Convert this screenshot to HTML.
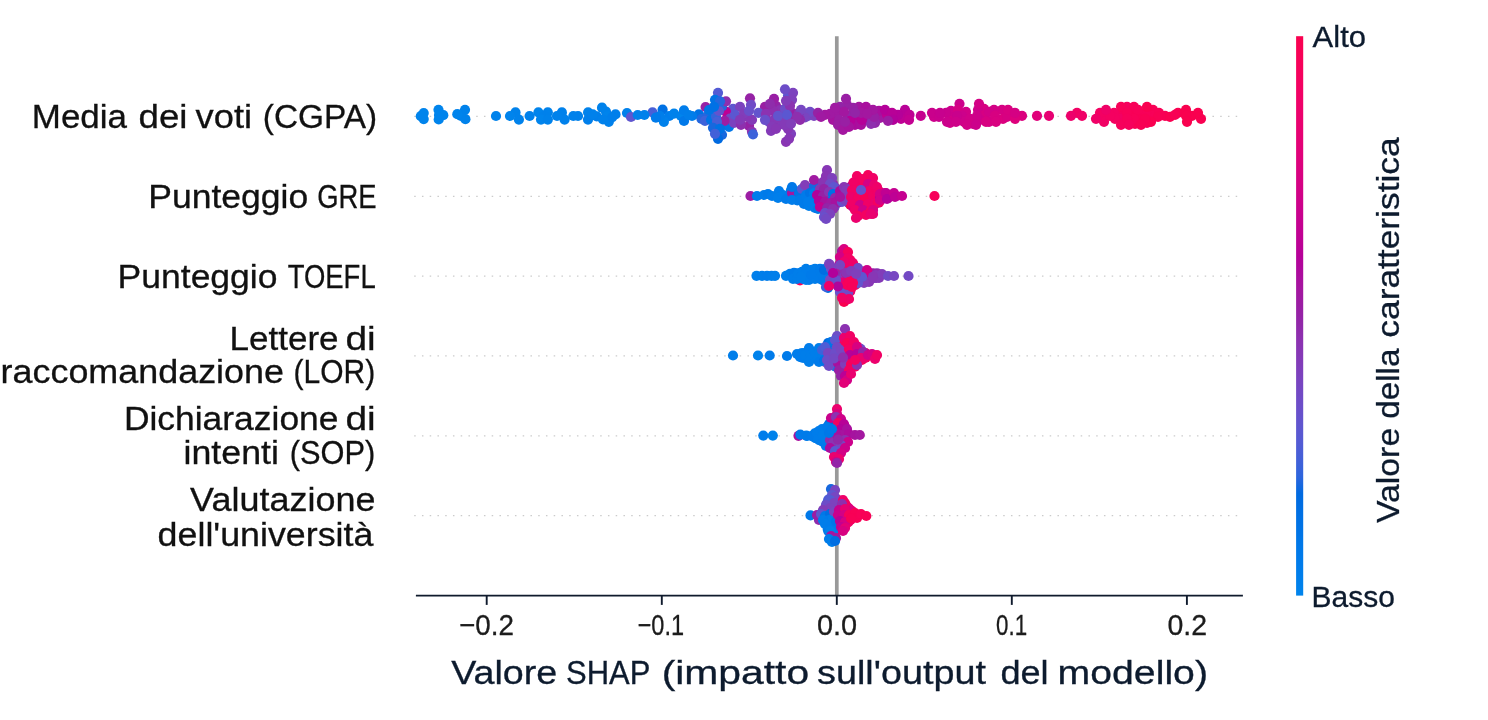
<!DOCTYPE html>
<html lang="it"><head><meta charset="utf-8"><title>Valore SHAP</title>
<style>html,body{margin:0;padding:0;background:#fff}body{width:1488px;height:720px;overflow:hidden}svg{display:block;will-change:transform}text{font-family:'Liberation Sans', sans-serif;white-space:pre}</style></head><body>
<svg width="1488" height="720" viewBox="0 0 1488 720">
<defs><linearGradient id="cb" x1="0" y1="1" x2="0" y2="0"><stop offset="0.000" stop-color="#0084ec"/><stop offset="0.030" stop-color="#007feb"/><stop offset="0.061" stop-color="#007bea"/><stop offset="0.091" stop-color="#0078e8"/><stop offset="0.121" stop-color="#0073e5"/><stop offset="0.152" stop-color="#006fe3"/><stop offset="0.182" stop-color="#006ae0"/><stop offset="0.212" stop-color="#2d65dd"/><stop offset="0.242" stop-color="#4260d8"/><stop offset="0.273" stop-color="#535bd4"/><stop offset="0.303" stop-color="#5f56cf"/><stop offset="0.333" stop-color="#6a4fca"/><stop offset="0.364" stop-color="#7349c4"/><stop offset="0.394" stop-color="#7c42be"/><stop offset="0.424" stop-color="#843ab7"/><stop offset="0.455" stop-color="#8c32b1"/><stop offset="0.485" stop-color="#9128a9"/><stop offset="0.515" stop-color="#991fa4"/><stop offset="0.545" stop-color="#a317a0"/><stop offset="0.576" stop-color="#ac0b9d"/><stop offset="0.606" stop-color="#b50199"/><stop offset="0.636" stop-color="#be0194"/><stop offset="0.667" stop-color="#c50190"/><stop offset="0.697" stop-color="#cc018b"/><stop offset="0.727" stop-color="#d30185"/><stop offset="0.758" stop-color="#d90180"/><stop offset="0.788" stop-color="#e0017a"/><stop offset="0.818" stop-color="#e50174"/><stop offset="0.848" stop-color="#ea016f"/><stop offset="0.879" stop-color="#ef0169"/><stop offset="0.909" stop-color="#f30162"/><stop offset="0.939" stop-color="#f6015c"/><stop offset="0.970" stop-color="#f80156"/><stop offset="1.000" stop-color="#f9014f"/><stop offset="1" stop-color="#f9014f"/></linearGradient></defs>
<rect width="1488" height="720" fill="#ffffff"/>
<line x1="836.8" y1="36.2" x2="836.8" y2="595.6" stroke="#999999" stroke-width="3.7"/>
<g stroke="#cbcbcb" stroke-width="1.3" stroke-dasharray="1.5 6.25">
<line x1="414.2" y1="116.3" x2="1239.9" y2="116.3"/>
<line x1="414.2" y1="196.3" x2="1239.9" y2="196.3"/>
<line x1="414.2" y1="276.1" x2="1239.9" y2="276.1"/>
<line x1="414.2" y1="355.8" x2="1239.9" y2="355.8"/>
<line x1="414.2" y1="435.9" x2="1239.9" y2="435.9"/>
<line x1="414.2" y1="515.7" x2="1239.9" y2="515.7"/>
</g>
<g id="row1">
<circle cx="1077.0" cy="112.8" r="5.1" fill="#f10164"/><circle cx="1134.0" cy="112.8" r="5.1" fill="#f80156"/><circle cx="780.0" cy="122.0" r="5.1" fill="#843ab7"/><circle cx="880.0" cy="117.8" r="5.1" fill="#a01aa2"/><circle cx="749.0" cy="125.8" r="5.1" fill="#9622a5"/><circle cx="776.0" cy="105.8" r="5.1" fill="#9324a7"/><circle cx="681.0" cy="116.0" r="5.1" fill="#0084ec"/><circle cx="780.0" cy="110.0" r="5.1" fill="#8c32b1"/><circle cx="596.7" cy="116.4" r="5.1" fill="#007feb"/><circle cx="538.4" cy="112.4" r="5.1" fill="#0084ec"/><circle cx="973.0" cy="123.8" r="5.1" fill="#cc018b"/><circle cx="794.0" cy="116.8" r="5.1" fill="#9128a9"/><circle cx="984.0" cy="108.8" r="5.1" fill="#d70181"/><circle cx="1153.0" cy="109.8" r="5.1" fill="#f80156"/><circle cx="833.0" cy="119.8" r="5.1" fill="#a6139f"/><circle cx="1135.0" cy="123.8" r="5.1" fill="#f80154"/><circle cx="438.5" cy="109.8" r="5.1" fill="#0084ec"/><circle cx="788.0" cy="95.8" r="5.1" fill="#5b57d1"/><circle cx="712.0" cy="112.8" r="5.1" fill="#2d65dd"/><circle cx="588.1" cy="112.4" r="5.1" fill="#0082eb"/><circle cx="547.8" cy="112.4" r="5.1" fill="#0082eb"/><circle cx="868.0" cy="119.8" r="5.1" fill="#9324a7"/><circle cx="793.0" cy="92.8" r="5.1" fill="#7c42be"/><circle cx="856.0" cy="119.8" r="5.1" fill="#b50199"/><circle cx="952.0" cy="118.8" r="5.1" fill="#d10187"/><circle cx="765.0" cy="106.8" r="5.1" fill="#991fa4"/><circle cx="1104.0" cy="121.8" r="5.1" fill="#f10164"/><circle cx="848.0" cy="115.8" r="5.1" fill="#9128a9"/><circle cx="1127.0" cy="106.8" r="5.1" fill="#f5015e"/><circle cx="950.0" cy="122.8" r="5.1" fill="#d10187"/><circle cx="698.9" cy="114.4" r="5.1" fill="#0071e4"/><circle cx="792.0" cy="99.8" r="5.1" fill="#7f40bc"/><circle cx="723.0" cy="124.0" r="5.1" fill="#3664db"/><circle cx="1120.0" cy="112.8" r="5.1" fill="#f6015c"/><circle cx="1103.0" cy="115.4" r="5.1" fill="#f30162"/><circle cx="1049.0" cy="115.8" r="5.1" fill="#e70172"/><circle cx="1121.0" cy="106.8" r="5.1" fill="#f80158"/><circle cx="465.0" cy="109.8" r="5.1" fill="#0082eb"/><circle cx="934.0" cy="116.8" r="5.1" fill="#cc018b"/><circle cx="733.0" cy="108.8" r="5.1" fill="#5f56cf"/><circle cx="420.8" cy="116.2" r="5.1" fill="#0084ec"/><circle cx="722.0" cy="134.8" r="5.1" fill="#1768de"/><circle cx="1100.0" cy="112.8" r="5.1" fill="#f30162"/><circle cx="1082.0" cy="115.8" r="5.1" fill="#f00167"/><circle cx="544.0" cy="116.0" r="5.1" fill="#0081eb"/><circle cx="785.0" cy="108.8" r="5.1" fill="#6d4dc8"/><circle cx="808.0" cy="115.8" r="5.1" fill="#5f56cf"/><circle cx="814.0" cy="116.0" r="5.1" fill="#7c42be"/><circle cx="906.0" cy="116.8" r="5.1" fill="#c30191"/><circle cx="726.0" cy="111.8" r="5.1" fill="#be0194"/><circle cx="901.0" cy="118.8" r="5.1" fill="#be0194"/><circle cx="837.0" cy="112.8" r="5.1" fill="#a01aa2"/><circle cx="951.0" cy="110.8" r="5.1" fill="#cc018b"/><circle cx="684.0" cy="110.4" r="5.1" fill="#007deb"/><circle cx="1165.0" cy="115.8" r="5.1" fill="#f80154"/><circle cx="608.8" cy="121.8" r="5.1" fill="#0081eb"/><circle cx="701.5" cy="119.0" r="5.1" fill="#2467de"/><circle cx="879.0" cy="110.8" r="5.1" fill="#a90f9e"/><circle cx="752.0" cy="131.8" r="5.1" fill="#8c32b1"/><circle cx="684.0" cy="121.0" r="5.1" fill="#0079e9"/><circle cx="810.0" cy="111.8" r="5.1" fill="#704bc6"/><circle cx="1139.0" cy="115.8" r="5.1" fill="#f80156"/><circle cx="1114.0" cy="112.8" r="5.1" fill="#f40160"/><circle cx="791.0" cy="133.8" r="5.1" fill="#7f40bc"/><circle cx="722.0" cy="106.5" r="5.1" fill="#2467de"/><circle cx="423.7" cy="119.1" r="5.1" fill="#0084ec"/><circle cx="1002.0" cy="109.8" r="5.1" fill="#d50183"/><circle cx="959.5" cy="103.8" r="5.1" fill="#cc018b"/><circle cx="847.0" cy="104.8" r="5.1" fill="#9622a5"/><circle cx="423.7" cy="113.1" r="5.1" fill="#0084ec"/><circle cx="707.0" cy="116.4" r="5.1" fill="#2467de"/><circle cx="718.0" cy="138.8" r="5.1" fill="#006ae0"/><circle cx="515.5" cy="112.4" r="5.1" fill="#0082eb"/><circle cx="1201.0" cy="118.8" r="5.1" fill="#f90151"/><circle cx="855.0" cy="124.8" r="5.1" fill="#ac0b9d"/><circle cx="1120.0" cy="118.8" r="5.1" fill="#f30162"/><circle cx="1096.0" cy="118.8" r="5.1" fill="#f00167"/><circle cx="769.0" cy="121.8" r="5.1" fill="#704bc6"/><circle cx="692.0" cy="116.0" r="5.1" fill="#007bea"/><circle cx="1178.0" cy="112.8" r="5.1" fill="#f90151"/><circle cx="1147.0" cy="122.8" r="5.1" fill="#f7015a"/><circle cx="774.0" cy="98.8" r="5.1" fill="#991fa4"/><circle cx="958.0" cy="109.8" r="5.1" fill="#d50183"/><circle cx="774.0" cy="119.8" r="5.1" fill="#8737b5"/><circle cx="730.0" cy="118.5" r="5.1" fill="#7349c4"/><circle cx="788.0" cy="128.8" r="5.1" fill="#8737b5"/><circle cx="705.6" cy="107.0" r="5.1" fill="#9622a5"/><circle cx="840.0" cy="106.8" r="5.1" fill="#9324a7"/><circle cx="844.0" cy="111.8" r="5.1" fill="#a317a0"/><circle cx="1192.0" cy="115.8" r="5.1" fill="#f9014f"/><circle cx="966.0" cy="111.8" r="5.1" fill="#d10187"/><circle cx="740.0" cy="106.8" r="5.1" fill="#7c42be"/><circle cx="905.0" cy="109.8" r="5.1" fill="#b80197"/><circle cx="465.4" cy="119.2" r="5.1" fill="#0082eb"/><circle cx="541.0" cy="119.6" r="5.1" fill="#0084ec"/><circle cx="615.5" cy="114.4" r="5.1" fill="#007feb"/><circle cx="718.0" cy="92.8" r="5.1" fill="#535bd4"/><circle cx="830.0" cy="113.8" r="5.1" fill="#a01aa2"/><circle cx="978.0" cy="109.8" r="5.1" fill="#ce0189"/><circle cx="729.0" cy="126.8" r="5.1" fill="#0076e7"/><circle cx="985.0" cy="114.8" r="5.1" fill="#d50183"/><circle cx="1115.0" cy="118.8" r="5.1" fill="#f40160"/><circle cx="771.0" cy="130.8" r="5.1" fill="#843ab7"/><circle cx="786.0" cy="141.8" r="5.1" fill="#8935b3"/><circle cx="1152.0" cy="115.8" r="5.1" fill="#f80158"/><circle cx="705.0" cy="120.8" r="5.1" fill="#3d62da"/><circle cx="783.0" cy="117.0" r="5.1" fill="#7c42be"/><circle cx="752.0" cy="119.8" r="5.1" fill="#843ab7"/><circle cx="1146.0" cy="112.8" r="5.1" fill="#f80158"/><circle cx="994.0" cy="109.8" r="5.1" fill="#d30185"/><circle cx="1159.0" cy="112.8" r="5.1" fill="#f80156"/><circle cx="932.0" cy="112.8" r="5.1" fill="#c9018c"/><circle cx="510.0" cy="116.0" r="5.1" fill="#0084ec"/><circle cx="1003.0" cy="118.8" r="5.1" fill="#db017e"/><circle cx="747.0" cy="116.8" r="5.1" fill="#8737b5"/><circle cx="652.5" cy="112.4" r="5.1" fill="#485fd7"/><circle cx="1158.0" cy="116.8" r="5.1" fill="#f80154"/><circle cx="662.6" cy="109.7" r="5.1" fill="#0071e4"/><circle cx="443.3" cy="115.2" r="5.1" fill="#0084ec"/><circle cx="859.0" cy="106.8" r="5.1" fill="#a317a0"/><circle cx="789.0" cy="138.8" r="5.1" fill="#8737b5"/><circle cx="786.0" cy="121.8" r="5.1" fill="#823db9"/><circle cx="715.0" cy="99.8" r="5.1" fill="#0073e5"/><circle cx="772.0" cy="126.8" r="5.1" fill="#843ab7"/><circle cx="792.0" cy="112.8" r="5.1" fill="#991fa4"/><circle cx="547.8" cy="119.6" r="5.1" fill="#0082eb"/><circle cx="734.0" cy="122.8" r="5.1" fill="#7c42be"/><circle cx="750.0" cy="98.3" r="5.1" fill="#9622a5"/><circle cx="751.0" cy="104.8" r="5.1" fill="#704bc6"/><circle cx="1121.0" cy="124.8" r="5.1" fill="#f6015c"/><circle cx="606.0" cy="111.7" r="5.1" fill="#0082eb"/><circle cx="1134.0" cy="106.8" r="5.1" fill="#f80158"/><circle cx="627.0" cy="113.0" r="5.1" fill="#0081eb"/><circle cx="518.9" cy="119.6" r="5.1" fill="#0082eb"/><circle cx="920.8" cy="115.8" r="5.1" fill="#c50190"/><circle cx="711.0" cy="119.8" r="5.1" fill="#0073e5"/><circle cx="979.0" cy="103.8" r="5.1" fill="#d30185"/><circle cx="898.0" cy="114.8" r="5.1" fill="#b50199"/><circle cx="825.0" cy="114.8" r="5.1" fill="#a317a0"/><circle cx="578.0" cy="116.0" r="5.1" fill="#0081eb"/><circle cx="1151.0" cy="121.8" r="5.1" fill="#f90151"/><circle cx="962.0" cy="115.8" r="5.1" fill="#cc018b"/><circle cx="1138.0" cy="109.8" r="5.1" fill="#f80158"/><circle cx="861.0" cy="124.8" r="5.1" fill="#a90f9e"/><circle cx="853.0" cy="107.8" r="5.1" fill="#9622a5"/><circle cx="631.0" cy="117.0" r="5.1" fill="#5f56cf"/><circle cx="850.0" cy="120.8" r="5.1" fill="#b50199"/><circle cx="724.5" cy="120.8" r="5.1" fill="#9c1da3"/><circle cx="839.0" cy="119.8" r="5.1" fill="#9c1da3"/><circle cx="602.0" cy="107.7" r="5.1" fill="#0082eb"/><circle cx="838.0" cy="124.8" r="5.1" fill="#9c1da3"/><circle cx="1037.0" cy="115.8" r="5.1" fill="#e0017a"/><circle cx="818.0" cy="112.8" r="5.1" fill="#9622a5"/><circle cx="573.3" cy="116.0" r="5.1" fill="#0081eb"/><circle cx="790.0" cy="105.8" r="5.1" fill="#8c32b1"/><circle cx="741.0" cy="124.8" r="5.1" fill="#8e2fae"/><circle cx="805.0" cy="117.5" r="5.1" fill="#7945c0"/><circle cx="964.0" cy="121.8" r="5.1" fill="#ce0189"/><circle cx="989.0" cy="111.8" r="5.1" fill="#d10187"/><circle cx="875.0" cy="122.8" r="5.1" fill="#9128a9"/><circle cx="989.0" cy="121.8" r="5.1" fill="#d30185"/><circle cx="866.0" cy="106.8" r="5.1" fill="#a90f9e"/><circle cx="1134.0" cy="118.8" r="5.1" fill="#f80158"/><circle cx="1145.0" cy="118.8" r="5.1" fill="#f80154"/><circle cx="887.0" cy="114.8" r="5.1" fill="#be0194"/><circle cx="1198.0" cy="112.8" r="5.1" fill="#f9014f"/><circle cx="946.0" cy="112.8" r="5.1" fill="#c9018c"/><circle cx="947.0" cy="121.8" r="5.1" fill="#cc018b"/><circle cx="669.3" cy="116.0" r="5.1" fill="#007deb"/><circle cx="773.0" cy="110.8" r="5.1" fill="#8e2fae"/><circle cx="885.0" cy="109.8" r="5.1" fill="#b50199"/><circle cx="970.0" cy="118.8" r="5.1" fill="#d10187"/><circle cx="786.0" cy="100.8" r="5.1" fill="#823db9"/><circle cx="980.0" cy="119.8" r="5.1" fill="#ce0189"/><circle cx="995.0" cy="115.8" r="5.1" fill="#d70181"/><circle cx="957.0" cy="115.8" r="5.1" fill="#c9018c"/><circle cx="939.0" cy="116.8" r="5.1" fill="#c9018c"/><circle cx="1022.0" cy="115.8" r="5.1" fill="#db017e"/><circle cx="821.0" cy="116.8" r="5.1" fill="#a01aa2"/><circle cx="637.7" cy="115.0" r="5.1" fill="#0081eb"/><circle cx="956.0" cy="121.8" r="5.1" fill="#ce0189"/><circle cx="778.0" cy="115.8" r="5.1" fill="#6354cd"/><circle cx="644.4" cy="115.0" r="5.1" fill="#0081eb"/><circle cx="892.0" cy="112.8" r="5.1" fill="#b80197"/><circle cx="784.0" cy="125.0" r="5.1" fill="#843ab7"/><circle cx="588.0" cy="119.6" r="5.1" fill="#007feb"/><circle cx="893.0" cy="119.8" r="5.1" fill="#b2019a"/><circle cx="1007.0" cy="116.8" r="5.1" fill="#d70181"/><circle cx="716.0" cy="116.5" r="5.1" fill="#3664db"/><circle cx="607.5" cy="116.4" r="5.1" fill="#0084ec"/><circle cx="1186.0" cy="109.8" r="5.1" fill="#f9014f"/><circle cx="529.6" cy="116.0" r="5.1" fill="#0081eb"/><circle cx="1147.0" cy="106.8" r="5.1" fill="#f90151"/><circle cx="439.0" cy="115.0" r="5.1" fill="#0084ec"/><circle cx="612.0" cy="117.5" r="5.1" fill="#007feb"/><circle cx="735.0" cy="114.8" r="5.1" fill="#5b57d1"/><circle cx="871.0" cy="123.8" r="5.1" fill="#8e2fae"/><circle cx="438.7" cy="119.5" r="5.1" fill="#0084ec"/><circle cx="1127.0" cy="112.8" r="5.1" fill="#f80158"/><circle cx="758.5" cy="112.8" r="5.1" fill="#6354cd"/><circle cx="461.0" cy="116.0" r="5.1" fill="#0082eb"/><circle cx="1071.0" cy="115.8" r="5.1" fill="#ed016b"/><circle cx="787.0" cy="114.8" r="5.1" fill="#5b57d1"/><circle cx="846.0" cy="98.8" r="5.1" fill="#991fa4"/><circle cx="776.0" cy="128.8" r="5.1" fill="#8737b5"/><circle cx="940.0" cy="112.8" r="5.1" fill="#c7018e"/><circle cx="996.0" cy="121.8" r="5.1" fill="#d90180"/><circle cx="603.0" cy="119.5" r="5.1" fill="#0081eb"/><circle cx="799.0" cy="112.8" r="5.1" fill="#8935b3"/><circle cx="986.0" cy="121.8" r="5.1" fill="#d70181"/><circle cx="1170.0" cy="116.8" r="5.1" fill="#f90151"/><circle cx="753.0" cy="134.3" r="5.1" fill="#3d62da"/><circle cx="726.0" cy="101.3" r="5.1" fill="#8e2fae"/><circle cx="457.3" cy="114.2" r="5.1" fill="#0084ec"/><circle cx="663.9" cy="121.8" r="5.1" fill="#0081eb"/><circle cx="835.0" cy="107.8" r="5.1" fill="#a01aa2"/><circle cx="592.7" cy="114.4" r="5.1" fill="#0081eb"/><circle cx="1110.0" cy="115.8" r="5.1" fill="#f40160"/><circle cx="660.0" cy="116.0" r="5.1" fill="#007eea"/><circle cx="709.0" cy="110.0" r="5.1" fill="#0073e5"/><circle cx="801.0" cy="109.8" r="5.1" fill="#7747c2"/><circle cx="800.0" cy="119.8" r="5.1" fill="#8f2cab"/><circle cx="874.0" cy="116.8" r="5.1" fill="#991fa4"/><circle cx="862.0" cy="119.8" r="5.1" fill="#b50199"/><circle cx="1015.0" cy="118.8" r="5.1" fill="#dd017c"/><circle cx="655.9" cy="117.7" r="5.1" fill="#007bea"/><circle cx="861.0" cy="112.8" r="5.1" fill="#a317a0"/><circle cx="719.0" cy="111.0" r="5.1" fill="#6354cd"/><circle cx="717.0" cy="121.8" r="5.1" fill="#485fd7"/><circle cx="744.0" cy="113.5" r="5.1" fill="#823db9"/><circle cx="785.0" cy="89.3" r="5.1" fill="#6d4dc8"/><circle cx="873.0" cy="109.8" r="5.1" fill="#a317a0"/><circle cx="674.0" cy="113.7" r="5.1" fill="#0082eb"/><circle cx="843.0" cy="129.8" r="5.1" fill="#a317a0"/><circle cx="749.0" cy="110.8" r="5.1" fill="#6a4fca"/><circle cx="766.0" cy="113.8" r="5.1" fill="#8c32b1"/><circle cx="1127.0" cy="118.8" r="5.1" fill="#f7015a"/><circle cx="561.9" cy="112.4" r="5.1" fill="#0081eb"/><circle cx="496.0" cy="116.0" r="5.1" fill="#0082eb"/><circle cx="967.0" cy="124.8" r="5.1" fill="#d10187"/><circle cx="720.0" cy="101.3" r="5.1" fill="#2467de"/><circle cx="564.6" cy="119.6" r="5.1" fill="#0081eb"/><circle cx="1175.0" cy="114.8" r="5.1" fill="#f80154"/><circle cx="713.0" cy="127.8" r="5.1" fill="#1768de"/><circle cx="720.0" cy="128.8" r="5.1" fill="#0071e4"/><circle cx="715.0" cy="133.8" r="5.1" fill="#4260d8"/><circle cx="740.0" cy="119.8" r="5.1" fill="#843ab7"/><circle cx="1186.0" cy="115.8" r="5.1" fill="#f9014f"/><circle cx="909.5" cy="114.8" r="5.1" fill="#be0194"/><circle cx="867.0" cy="113.8" r="5.1" fill="#a317a0"/><circle cx="849.0" cy="126.8" r="5.1" fill="#a6139f"/><circle cx="1187.0" cy="121.8" r="5.1" fill="#f9014f"/><circle cx="1008.0" cy="109.8" r="5.1" fill="#d90180"/><circle cx="977.0" cy="115.8" r="5.1" fill="#ce0189"/><circle cx="1129.0" cy="124.8" r="5.1" fill="#f6015c"/><circle cx="770.0" cy="103.8" r="5.1" fill="#8f2cab"/><circle cx="688.8" cy="115.0" r="5.1" fill="#007eea"/><circle cx="845.0" cy="121.8" r="5.1" fill="#991fa4"/><circle cx="909.0" cy="119.8" r="5.1" fill="#c30191"/><circle cx="976.0" cy="124.8" r="5.1" fill="#cc018b"/><circle cx="714.0" cy="106.8" r="5.1" fill="#0071e5"/><circle cx="797.0" cy="116.8" r="5.1" fill="#8e2fae"/><circle cx="855.0" cy="112.8" r="5.1" fill="#9324a7"/><circle cx="557.0" cy="116.0" r="5.1" fill="#0082eb"/><circle cx="1106.0" cy="109.8" r="5.1" fill="#f00167"/><circle cx="888.0" cy="120.8" r="5.1" fill="#9c1da3"/><circle cx="1141.0" cy="124.8" r="5.1" fill="#f80154"/><circle cx="791.0" cy="123.8" r="5.1" fill="#823db9"/><circle cx="765.0" cy="119.8" r="5.1" fill="#6a4fca"/><circle cx="1015.0" cy="112.8" r="5.1" fill="#d50183"/>
</g>
<g id="row2">
<circle cx="824.2" cy="191.5" r="5.1" fill="#0075e6"/><circle cx="827.9" cy="205.0" r="5.1" fill="#a317a0"/><circle cx="841.2" cy="196.0" r="5.1" fill="#704bc6"/><circle cx="876.0" cy="193.8" r="5.1" fill="#f00167"/><circle cx="823.3" cy="200.5" r="5.1" fill="#7747c2"/><circle cx="861.4" cy="187.0" r="5.1" fill="#4260d8"/><circle cx="794.8" cy="193.8" r="5.1" fill="#a317a0"/><circle cx="812.5" cy="187.0" r="5.1" fill="#af059c"/><circle cx="804.5" cy="198.2" r="5.1" fill="#6354cd"/><circle cx="863.5" cy="189.3" r="5.1" fill="#c50190"/><circle cx="831.0" cy="184.8" r="5.1" fill="#6354cd"/><circle cx="860.8" cy="198.2" r="5.1" fill="#f5015e"/><circle cx="849.1" cy="191.5" r="5.1" fill="#4e5dd6"/><circle cx="794.1" cy="198.2" r="5.1" fill="#007be9"/><circle cx="829.1" cy="180.3" r="5.1" fill="#5b57d1"/><circle cx="858.4" cy="191.5" r="5.1" fill="#e90170"/><circle cx="829.3" cy="184.8" r="5.1" fill="#b50199"/><circle cx="853.4" cy="193.8" r="5.1" fill="#f9014f"/><circle cx="857.6" cy="202.7" r="5.1" fill="#f90151"/><circle cx="834.4" cy="198.2" r="5.1" fill="#0082eb"/><circle cx="853.1" cy="196.0" r="5.1" fill="#f5015e"/><circle cx="857.3" cy="189.3" r="5.1" fill="#f5015e"/><circle cx="803.5" cy="200.5" r="5.1" fill="#0081eb"/><circle cx="819.7" cy="202.7" r="5.1" fill="#0079e9"/><circle cx="868.6" cy="202.7" r="5.1" fill="#f10164"/><circle cx="791.6" cy="198.2" r="5.1" fill="#007feb"/><circle cx="792.8" cy="191.5" r="5.1" fill="#a317a0"/><circle cx="862.2" cy="209.5" r="5.1" fill="#f5015e"/><circle cx="848.9" cy="196.0" r="5.1" fill="#991fa4"/><circle cx="828.6" cy="209.5" r="5.1" fill="#4e5dd6"/><circle cx="869.4" cy="207.2" r="5.1" fill="#f5015e"/><circle cx="874.7" cy="187.0" r="5.1" fill="#f10164"/><circle cx="837.7" cy="193.8" r="5.1" fill="#af059c"/><circle cx="868.7" cy="193.8" r="5.1" fill="#f5015e"/><circle cx="820.5" cy="205.0" r="5.1" fill="#2d65dd"/><circle cx="868.4" cy="182.5" r="5.1" fill="#f6015c"/><circle cx="836.5" cy="189.3" r="5.1" fill="#8c32b1"/><circle cx="835.1" cy="202.7" r="5.1" fill="#9622a5"/><circle cx="860.0" cy="200.5" r="5.1" fill="#ef0169"/><circle cx="822.8" cy="202.7" r="5.1" fill="#af059c"/><circle cx="814.1" cy="191.5" r="5.1" fill="#0071e5"/><circle cx="858.7" cy="207.2" r="5.1" fill="#f6015c"/><circle cx="875.2" cy="191.5" r="5.1" fill="#f40160"/><circle cx="859.9" cy="193.8" r="5.1" fill="#ef0169"/><circle cx="873.3" cy="205.0" r="5.1" fill="#d50183"/><circle cx="873.1" cy="191.5" r="5.1" fill="#6751cc"/><circle cx="807.0" cy="191.5" r="5.1" fill="#8e2fae"/><circle cx="830.0" cy="200.5" r="5.1" fill="#8f2cab"/><circle cx="824.3" cy="200.5" r="5.1" fill="#7f40bc"/><circle cx="808.8" cy="196.0" r="5.1" fill="#6d4dc8"/><circle cx="808.4" cy="198.2" r="5.1" fill="#bb0196"/><circle cx="831.3" cy="200.5" r="5.1" fill="#db017e"/><circle cx="859.4" cy="205.0" r="5.1" fill="#d50183"/><circle cx="877.9" cy="198.2" r="5.1" fill="#cc018b"/><circle cx="863.7" cy="200.5" r="5.1" fill="#f40160"/><circle cx="872.5" cy="198.2" r="5.1" fill="#6354cd"/><circle cx="871.8" cy="189.3" r="5.1" fill="#f80154"/><circle cx="840.9" cy="200.5" r="5.1" fill="#843ab7"/><circle cx="857.5" cy="193.8" r="5.1" fill="#f80158"/><circle cx="839.7" cy="191.5" r="5.1" fill="#6d4dc8"/><circle cx="866.9" cy="189.3" r="5.1" fill="#d70181"/><circle cx="864.6" cy="184.8" r="5.1" fill="#7f40bc"/><circle cx="834.4" cy="200.5" r="5.1" fill="#6d4dc8"/><circle cx="870.4" cy="191.5" r="5.1" fill="#f6015c"/><circle cx="848.7" cy="193.8" r="5.1" fill="#6751cc"/><circle cx="804.7" cy="189.3" r="5.1" fill="#007deb"/><circle cx="842.6" cy="193.8" r="5.1" fill="#991fa4"/><circle cx="865.2" cy="198.2" r="5.1" fill="#c7018e"/><circle cx="820.2" cy="193.8" r="5.1" fill="#d70181"/><circle cx="835.9" cy="200.5" r="5.1" fill="#b2019a"/><circle cx="826.7" cy="191.5" r="5.1" fill="#d70181"/><circle cx="874.3" cy="205.0" r="5.1" fill="#991fa4"/><circle cx="841.2" cy="198.2" r="5.1" fill="#6751cc"/><circle cx="822.0" cy="196.0" r="5.1" fill="#704bc6"/><circle cx="855.6" cy="184.8" r="5.1" fill="#f90151"/><circle cx="800.8" cy="193.8" r="5.1" fill="#4e5dd6"/><circle cx="849.3" cy="200.5" r="5.1" fill="#5f56cf"/><circle cx="863.2" cy="198.2" r="5.1" fill="#ef0169"/><circle cx="826.1" cy="202.7" r="5.1" fill="#b80197"/><circle cx="864.4" cy="189.3" r="5.1" fill="#7c42be"/><circle cx="827.0" cy="207.2" r="5.1" fill="#5b57d1"/><circle cx="833.8" cy="187.0" r="5.1" fill="#0076e7"/><circle cx="828.6" cy="211.7" r="5.1" fill="#0078e8"/><circle cx="804.7" cy="193.8" r="5.1" fill="#c30191"/><circle cx="865.6" cy="196.0" r="5.1" fill="#f9014f"/><circle cx="875.0" cy="202.7" r="5.1" fill="#6354cd"/><circle cx="873.5" cy="193.8" r="5.1" fill="#f7015a"/><circle cx="801.7" cy="189.3" r="5.1" fill="#007be9"/><circle cx="866.3" cy="196.0" r="5.1" fill="#c7018e"/><circle cx="824.9" cy="205.0" r="5.1" fill="#8737b5"/><circle cx="850.1" cy="196.0" r="5.1" fill="#ef0169"/><circle cx="816.1" cy="191.5" r="5.1" fill="#0075e6"/><circle cx="854.2" cy="205.0" r="5.1" fill="#ed016b"/><circle cx="856.9" cy="200.5" r="5.1" fill="#f00167"/><circle cx="827.4" cy="182.5" r="5.1" fill="#a6139f"/><circle cx="856.8" cy="198.2" r="5.1" fill="#f80156"/><circle cx="867.6" cy="205.0" r="5.1" fill="#ed016b"/><circle cx="837.4" cy="189.3" r="5.1" fill="#8935b3"/><circle cx="837.1" cy="200.5" r="5.1" fill="#c30191"/><circle cx="846.3" cy="193.8" r="5.1" fill="#7349c4"/><circle cx="868.5" cy="191.5" r="5.1" fill="#f40160"/><circle cx="813.8" cy="200.5" r="5.1" fill="#0078e8"/><circle cx="873.7" cy="198.2" r="5.1" fill="#f80154"/><circle cx="826.8" cy="196.0" r="5.1" fill="#007eea"/><circle cx="826.9" cy="200.5" r="5.1" fill="#0079e9"/><circle cx="855.0" cy="207.2" r="5.1" fill="#f10164"/><circle cx="868.7" cy="200.5" r="5.1" fill="#f10164"/><circle cx="866.2" cy="207.2" r="5.1" fill="#f10164"/><circle cx="819.9" cy="191.5" r="5.1" fill="#6d4dc8"/><circle cx="822.1" cy="189.3" r="5.1" fill="#5b57d1"/><circle cx="829.5" cy="205.0" r="5.1" fill="#a317a0"/><circle cx="838.7" cy="198.2" r="5.1" fill="#843ab7"/><circle cx="832.8" cy="196.0" r="5.1" fill="#0071e4"/><circle cx="881.3" cy="196.0" r="5.1" fill="#ec016d"/><circle cx="876.2" cy="200.5" r="5.1" fill="#f30162"/><circle cx="870.3" cy="205.0" r="5.1" fill="#6d4dc8"/><circle cx="869.8" cy="184.8" r="5.1" fill="#f00167"/><circle cx="852.2" cy="191.5" r="5.1" fill="#bb0196"/><circle cx="860.3" cy="196.0" r="5.1" fill="#f5015e"/><circle cx="806.7" cy="189.3" r="5.1" fill="#8935b3"/><circle cx="862.2" cy="205.0" r="5.1" fill="#f6015c"/><circle cx="841.3" cy="191.5" r="5.1" fill="#823db9"/><circle cx="848.4" cy="202.7" r="5.1" fill="#4e5dd6"/><circle cx="860.9" cy="189.3" r="5.1" fill="#ed016b"/><circle cx="792.4" cy="196.0" r="5.1" fill="#0081eb"/><circle cx="865.6" cy="205.0" r="5.1" fill="#ce0189"/><circle cx="868.9" cy="196.0" r="5.1" fill="#f5015e"/><circle cx="844.4" cy="196.0" r="5.1" fill="#843ab7"/><circle cx="832.7" cy="207.2" r="5.1" fill="#a01aa2"/><circle cx="811.2" cy="200.5" r="5.1" fill="#007be9"/><circle cx="834.4" cy="207.2" r="5.1" fill="#704bc6"/><circle cx="816.3" cy="193.8" r="5.1" fill="#6751cc"/><circle cx="835.6" cy="198.2" r="5.1" fill="#6354cd"/><circle cx="850.4" cy="205.0" r="5.1" fill="#f9014f"/><circle cx="841.8" cy="193.8" r="5.1" fill="#7c42be"/><circle cx="831.5" cy="193.8" r="5.1" fill="#9128a9"/><circle cx="851.3" cy="202.7" r="5.1" fill="#f00167"/><circle cx="878.9" cy="200.5" r="5.1" fill="#c30191"/><circle cx="810.1" cy="193.8" r="5.1" fill="#823db9"/><circle cx="853.4" cy="182.5" r="5.1" fill="#ef0169"/><circle cx="866.2" cy="191.5" r="5.1" fill="#c50190"/><circle cx="790.3" cy="198.2" r="5.1" fill="#0078e8"/><circle cx="806.9" cy="202.7" r="5.1" fill="#0071e4"/><circle cx="861.7" cy="202.7" r="5.1" fill="#f6015c"/><circle cx="807.2" cy="198.2" r="5.1" fill="#9128a9"/><circle cx="805.6" cy="187.0" r="5.1" fill="#823db9"/><circle cx="849.8" cy="189.3" r="5.1" fill="#843ab7"/><circle cx="820.2" cy="196.0" r="5.1" fill="#7349c4"/><circle cx="825.8" cy="189.3" r="5.1" fill="#0071e5"/><circle cx="858.9" cy="191.5" r="5.1" fill="#bb0196"/><circle cx="854.8" cy="184.8" r="5.1" fill="#f40160"/><circle cx="830.0" cy="196.0" r="5.1" fill="#535bd4"/><circle cx="825.3" cy="184.8" r="5.1" fill="#9622a5"/><circle cx="804.3" cy="196.0" r="5.1" fill="#6354cd"/><circle cx="802.6" cy="198.2" r="5.1" fill="#c50190"/><circle cx="821.1" cy="202.7" r="5.1" fill="#006ce1"/><circle cx="880.4" cy="200.5" r="5.1" fill="#bb0196"/><circle cx="824.6" cy="187.0" r="5.1" fill="#b80197"/><circle cx="825.2" cy="193.8" r="5.1" fill="#3664db"/><circle cx="807.2" cy="200.5" r="5.1" fill="#0076e7"/><circle cx="810.8" cy="196.0" r="5.1" fill="#7945c0"/><circle cx="881.3" cy="193.8" r="5.1" fill="#d90180"/><circle cx="796.9" cy="191.5" r="5.1" fill="#007deb"/><circle cx="794.7" cy="198.2" r="5.1" fill="#0084ec"/><circle cx="860.9" cy="193.8" r="5.1" fill="#f5015e"/><circle cx="829.6" cy="187.0" r="5.1" fill="#843ab7"/><circle cx="853.2" cy="200.5" r="5.1" fill="#f6015c"/><circle cx="819.5" cy="196.0" r="5.1" fill="#7349c4"/><circle cx="819.5" cy="205.0" r="5.1" fill="#0075e6"/><circle cx="871.1" cy="198.2" r="5.1" fill="#e70172"/><circle cx="838.9" cy="196.0" r="5.1" fill="#7945c0"/><circle cx="818.3" cy="198.2" r="5.1" fill="#b50199"/><circle cx="807.3" cy="191.5" r="5.1" fill="#2d65dd"/><circle cx="827.4" cy="209.5" r="5.1" fill="#007deb"/><circle cx="804.7" cy="191.5" r="5.1" fill="#a6139f"/><circle cx="844.0" cy="193.8" r="5.1" fill="#704bc6"/><circle cx="819.6" cy="189.3" r="5.1" fill="#8f2cab"/><circle cx="852.2" cy="198.2" r="5.1" fill="#8e2fae"/><circle cx="813.0" cy="198.2" r="5.1" fill="#4e5dd6"/><circle cx="873.1" cy="202.7" r="5.1" fill="#d50183"/><circle cx="829.9" cy="209.5" r="5.1" fill="#6d4dc8"/><circle cx="857.4" cy="196.0" r="5.1" fill="#b50199"/><circle cx="855.0" cy="196.0" r="5.1" fill="#d10187"/><circle cx="826.5" cy="205.0" r="5.1" fill="#db017e"/><circle cx="796.2" cy="196.0" r="5.1" fill="#007bea"/><circle cx="834.9" cy="191.5" r="5.1" fill="#7945c0"/><circle cx="859.4" cy="184.8" r="5.1" fill="#f80158"/><circle cx="813.4" cy="202.7" r="5.1" fill="#0084ec"/><circle cx="855.5" cy="202.7" r="5.1" fill="#f9014f"/><circle cx="870.9" cy="193.8" r="5.1" fill="#c7018e"/><circle cx="854.6" cy="198.2" r="5.1" fill="#f90151"/><circle cx="803.2" cy="196.0" r="5.1" fill="#0076e7"/><circle cx="855.4" cy="200.5" r="5.1" fill="#c9018c"/><circle cx="790.2" cy="193.8" r="5.1" fill="#0079e9"/><circle cx="811.5" cy="191.5" r="5.1" fill="#cc018b"/><circle cx="865.8" cy="207.2" r="5.1" fill="#ec016d"/><circle cx="837.2" cy="198.2" r="5.1" fill="#af059c"/><circle cx="859.6" cy="182.5" r="5.1" fill="#704bc6"/><circle cx="835.8" cy="196.0" r="5.1" fill="#6d4dc8"/><circle cx="853.4" cy="202.7" r="5.1" fill="#f80154"/><circle cx="867.1" cy="184.8" r="5.1" fill="#c50190"/><circle cx="847.2" cy="191.5" r="5.1" fill="#704bc6"/><circle cx="824.2" cy="196.0" r="5.1" fill="#5b57d1"/><circle cx="854.8" cy="187.0" r="5.1" fill="#c9018c"/><circle cx="876.0" cy="189.3" r="5.1" fill="#f80158"/><circle cx="811.5" cy="196.0" r="5.1" fill="#9c1da3"/><circle cx="847.9" cy="198.2" r="5.1" fill="#3d62da"/><circle cx="850.9" cy="198.2" r="5.1" fill="#b2019a"/><circle cx="817.5" cy="187.0" r="5.1" fill="#7945c0"/><circle cx="828.0" cy="193.8" r="5.1" fill="#b2019a"/><circle cx="830.2" cy="193.8" r="5.1" fill="#7747c2"/><circle cx="817.3" cy="191.5" r="5.1" fill="#d30185"/><circle cx="801.7" cy="191.5" r="5.1" fill="#006fe3"/><circle cx="862.4" cy="191.5" r="5.1" fill="#f40160"/><circle cx="830.0" cy="202.7" r="5.1" fill="#823db9"/><circle cx="820.8" cy="187.0" r="5.1" fill="#5f56cf"/><circle cx="856.0" cy="193.8" r="5.1" fill="#f5015e"/><circle cx="879.4" cy="191.5" r="5.1" fill="#c9018c"/><circle cx="842.5" cy="191.5" r="5.1" fill="#7747c2"/><circle cx="854.7" cy="191.5" r="5.1" fill="#c00192"/><circle cx="817.9" cy="200.5" r="5.1" fill="#007deb"/><circle cx="831.2" cy="184.8" r="5.1" fill="#8e2fae"/><circle cx="851.0" cy="200.5" r="5.1" fill="#f30162"/><circle cx="830.0" cy="180.3" r="5.1" fill="#cc018b"/><circle cx="857.9" cy="198.2" r="5.1" fill="#f5015e"/><circle cx="814.8" cy="198.2" r="5.1" fill="#8737b5"/><circle cx="829.3" cy="187.0" r="5.1" fill="#0079e9"/><circle cx="831.1" cy="191.5" r="5.1" fill="#c50190"/><circle cx="878.9" cy="202.7" r="5.1" fill="#ed016b"/><circle cx="856.4" cy="189.3" r="5.1" fill="#6a4fca"/><circle cx="812.9" cy="189.3" r="5.1" fill="#d70181"/><circle cx="816.9" cy="189.3" r="5.1" fill="#8e2fae"/><circle cx="869.9" cy="196.0" r="5.1" fill="#843ab7"/><circle cx="835.2" cy="193.8" r="5.1" fill="#8e2fae"/><circle cx="855.8" cy="191.5" r="5.1" fill="#f00167"/><circle cx="793.0" cy="196.0" r="5.1" fill="#007bea"/><circle cx="871.0" cy="200.5" r="5.1" fill="#f30162"/><circle cx="826.9" cy="193.8" r="5.1" fill="#8e2fae"/><circle cx="876.2" cy="196.0" r="5.1" fill="#f80158"/><circle cx="801.0" cy="196.0" r="5.1" fill="#9324a7"/><circle cx="854.5" cy="189.3" r="5.1" fill="#f9014f"/><circle cx="864.1" cy="196.0" r="5.1" fill="#f30162"/><circle cx="816.7" cy="198.2" r="5.1" fill="#6751cc"/><circle cx="811.3" cy="198.2" r="5.1" fill="#6a4fca"/><circle cx="794.5" cy="196.0" r="5.1" fill="#0079e9"/><circle cx="868.8" cy="205.0" r="5.1" fill="#f10164"/><circle cx="817.8" cy="196.0" r="5.1" fill="#ac0b9d"/><circle cx="875.6" cy="191.5" r="5.1" fill="#f7015a"/><circle cx="813.9" cy="196.0" r="5.1" fill="#8935b3"/><circle cx="809.5" cy="200.5" r="5.1" fill="#0073e5"/><circle cx="877.3" cy="196.0" r="5.1" fill="#f9014f"/><circle cx="826.5" cy="184.8" r="5.1" fill="#6354cd"/><circle cx="868.8" cy="187.0" r="5.1" fill="#f10164"/><circle cx="827.6" cy="198.2" r="5.1" fill="#6a4fca"/><circle cx="862.2" cy="182.5" r="5.1" fill="#c7018e"/><circle cx="830.9" cy="191.5" r="5.1" fill="#c7018e"/><circle cx="830.0" cy="189.3" r="5.1" fill="#0079e9"/><circle cx="866.6" cy="202.7" r="5.1" fill="#f40160"/><circle cx="830.5" cy="182.5" r="5.1" fill="#7c42be"/><circle cx="870.4" cy="189.3" r="5.1" fill="#7747c2"/><circle cx="833.2" cy="191.5" r="5.1" fill="#8737b5"/><circle cx="864.5" cy="187.0" r="5.1" fill="#f9014f"/><circle cx="797.8" cy="198.2" r="5.1" fill="#007eea"/><circle cx="798.5" cy="198.2" r="5.1" fill="#8935b3"/><circle cx="843.2" cy="198.2" r="5.1" fill="#5f56cf"/><circle cx="871.5" cy="202.7" r="5.1" fill="#f10164"/><circle cx="805.2" cy="200.5" r="5.1" fill="#006fe3"/><circle cx="812.7" cy="193.8" r="5.1" fill="#007deb"/><circle cx="831.8" cy="182.5" r="5.1" fill="#d30185"/><circle cx="832.7" cy="198.2" r="5.1" fill="#8f2cab"/><circle cx="808.0" cy="193.8" r="5.1" fill="#0079e9"/><circle cx="826.5" cy="187.0" r="5.1" fill="#006fe3"/><circle cx="817.7" cy="202.7" r="5.1" fill="#0071e5"/><circle cx="864.4" cy="191.5" r="5.1" fill="#f30162"/><circle cx="820.1" cy="200.5" r="5.1" fill="#0076e7"/><circle cx="826.6" cy="211.7" r="5.1" fill="#0073e5"/><circle cx="805.7" cy="193.8" r="5.1" fill="#8935b3"/><circle cx="810.3" cy="191.5" r="5.1" fill="#bb0196"/><circle cx="825.4" cy="198.2" r="5.1" fill="#b2019a"/><circle cx="859.4" cy="202.7" r="5.1" fill="#f80156"/><circle cx="823.6" cy="193.8" r="5.1" fill="#6a4fca"/><circle cx="834.1" cy="193.8" r="5.1" fill="#5659d2"/><circle cx="831.6" cy="187.0" r="5.1" fill="#535bd4"/><circle cx="826.0" cy="178.0" r="5.1" fill="#7349c4"/><circle cx="803.5" cy="193.8" r="5.1" fill="#7349c4"/><circle cx="873.0" cy="200.5" r="5.1" fill="#e0017a"/><circle cx="874.4" cy="196.0" r="5.1" fill="#e90170"/><circle cx="821.3" cy="191.5" r="5.1" fill="#0073e5"/><circle cx="829.2" cy="178.0" r="5.1" fill="#8c32b1"/><circle cx="795.4" cy="191.5" r="5.1" fill="#007deb"/><circle cx="839.4" cy="193.8" r="5.1" fill="#7c42be"/><circle cx="809.4" cy="198.2" r="5.1" fill="#485fd7"/><circle cx="798.0" cy="193.8" r="5.1" fill="#007feb"/><circle cx="838.3" cy="196.0" r="5.1" fill="#535bd4"/><circle cx="877.3" cy="193.8" r="5.1" fill="#e0017a"/><circle cx="883.0" cy="193.8" r="5.1" fill="#cc018b"/><circle cx="816.2" cy="200.5" r="5.1" fill="#0073e5"/><circle cx="869.3" cy="189.3" r="5.1" fill="#f10164"/><circle cx="846.8" cy="198.2" r="5.1" fill="#7349c4"/><circle cx="856.5" cy="205.0" r="5.1" fill="#d50183"/><circle cx="834.2" cy="196.0" r="5.1" fill="#ce0189"/><circle cx="869.1" cy="198.2" r="5.1" fill="#7945c0"/><circle cx="829.9" cy="207.2" r="5.1" fill="#704bc6"/><circle cx="867.7" cy="187.0" r="5.1" fill="#f7015a"/><circle cx="826.5" cy="198.2" r="5.1" fill="#7747c2"/><circle cx="850.3" cy="187.0" r="5.1" fill="#c50190"/><circle cx="821.8" cy="189.3" r="5.1" fill="#3d62da"/><circle cx="864.8" cy="193.8" r="5.1" fill="#cc018b"/><circle cx="828.2" cy="182.5" r="5.1" fill="#a317a0"/><circle cx="859.1" cy="189.3" r="5.1" fill="#7f40bc"/><circle cx="819.3" cy="187.0" r="5.1" fill="#7349c4"/><circle cx="861.5" cy="207.2" r="5.1" fill="#ec016d"/><circle cx="861.5" cy="196.0" r="5.1" fill="#f10164"/><circle cx="832.5" cy="205.0" r="5.1" fill="#0079e9"/><circle cx="817.7" cy="193.8" r="5.1" fill="#8f2cab"/><circle cx="813.2" cy="193.8" r="5.1" fill="#5659d2"/><circle cx="859.3" cy="209.5" r="5.1" fill="#f6015c"/><circle cx="878.3" cy="191.5" r="5.1" fill="#e90170"/><circle cx="791.6" cy="191.5" r="5.1" fill="#a317a0"/><circle cx="828.4" cy="189.3" r="5.1" fill="#7f40bc"/><circle cx="833.0" cy="205.0" r="5.1" fill="#3664db"/><circle cx="864.8" cy="202.7" r="5.1" fill="#f6015c"/><circle cx="827.6" cy="191.5" r="5.1" fill="#007be9"/><circle cx="833.7" cy="202.7" r="5.1" fill="#007feb"/><circle cx="866.8" cy="198.2" r="5.1" fill="#f6015c"/><circle cx="814.2" cy="187.0" r="5.1" fill="#c00192"/><circle cx="862.5" cy="193.8" r="5.1" fill="#c50190"/><circle cx="867.5" cy="200.5" r="5.1" fill="#d10187"/><circle cx="824.1" cy="207.2" r="5.1" fill="#a01aa2"/><circle cx="880.0" cy="198.2" r="5.1" fill="#e20178"/><circle cx="819.7" cy="184.8" r="5.1" fill="#843ab7"/><circle cx="865.1" cy="200.5" r="5.1" fill="#f6015c"/><circle cx="830.6" cy="198.2" r="5.1" fill="#0078e8"/><circle cx="872.9" cy="187.0" r="5.1" fill="#ef0169"/><circle cx="823.6" cy="191.5" r="5.1" fill="#5f56cf"/><circle cx="851.3" cy="191.5" r="5.1" fill="#d50183"/><circle cx="828.8" cy="202.7" r="5.1" fill="#006ee2"/><circle cx="851.0" cy="193.8" r="5.1" fill="#c00192"/><circle cx="876.5" cy="198.2" r="5.1" fill="#be0194"/><circle cx="871.1" cy="207.2" r="5.1" fill="#e0017a"/><circle cx="819.2" cy="193.8" r="5.1" fill="#007be9"/><circle cx="837.0" cy="191.5" r="5.1" fill="#535bd4"/><circle cx="845.6" cy="198.2" r="5.1" fill="#843ab7"/><circle cx="876.3" cy="202.7" r="5.1" fill="#c00192"/><circle cx="833.5" cy="184.8" r="5.1" fill="#8e2fae"/><circle cx="865.4" cy="182.5" r="5.1" fill="#f40160"/><circle cx="858.1" cy="205.0" r="5.1" fill="#f30162"/><circle cx="871.5" cy="187.0" r="5.1" fill="#6751cc"/><circle cx="799.8" cy="193.8" r="5.1" fill="#9128a9"/><circle cx="820.9" cy="184.8" r="5.1" fill="#6751cc"/><circle cx="822.9" cy="198.2" r="5.1" fill="#704bc6"/><circle cx="880.6" cy="193.8" r="5.1" fill="#f40160"/><circle cx="809.1" cy="189.3" r="5.1" fill="#0075e6"/><circle cx="855.2" cy="187.0" r="5.1" fill="#b2019a"/><circle cx="861.0" cy="184.8" r="5.1" fill="#ea016f"/><circle cx="832.8" cy="202.7" r="5.1" fill="#9128a9"/><circle cx="832.5" cy="189.3" r="5.1" fill="#8737b5"/><circle cx="873.9" cy="200.5" r="5.1" fill="#f9014f"/><circle cx="800.7" cy="198.2" r="5.1" fill="#8e2fae"/><circle cx="843.2" cy="196.0" r="5.1" fill="#5f56cf"/><circle cx="820.2" cy="198.2" r="5.1" fill="#0078e8"/><circle cx="857.8" cy="187.0" r="5.1" fill="#ea016f"/><circle cx="881.3" cy="198.2" r="5.1" fill="#f10164"/><circle cx="842.7" cy="200.5" r="5.1" fill="#7945c0"/><circle cx="827.6" cy="200.5" r="5.1" fill="#843ab7"/><circle cx="800.2" cy="191.5" r="5.1" fill="#823db9"/><circle cx="825.8" cy="180.3" r="5.1" fill="#d90180"/><circle cx="867.5" cy="182.5" r="5.1" fill="#f6015c"/><circle cx="838.0" cy="202.7" r="5.1" fill="#9128a9"/><circle cx="811.5" cy="202.7" r="5.1" fill="#007feb"/><circle cx="846.2" cy="196.0" r="5.1" fill="#7349c4"/><circle cx="823.9" cy="182.5" r="5.1" fill="#d10187"/><circle cx="810.9" cy="189.3" r="5.1" fill="#7747c2"/><circle cx="849.2" cy="189.3" r="5.1" fill="#4e5dd6"/><circle cx="852.8" cy="200.5" r="5.1" fill="#5659d2"/><circle cx="877.5" cy="189.3" r="5.1" fill="#f5015e"/><circle cx="873.3" cy="196.0" r="5.1" fill="#e70172"/><circle cx="860.0" cy="198.2" r="5.1" fill="#f10164"/><circle cx="834.7" cy="189.3" r="5.1" fill="#5b57d1"/><circle cx="853.3" cy="207.2" r="5.1" fill="#c30191"/><circle cx="852.3" cy="193.8" r="5.1" fill="#f90151"/><circle cx="871.7" cy="193.8" r="5.1" fill="#ce0189"/><circle cx="869.1" cy="184.8" r="5.1" fill="#f6015c"/><circle cx="879.8" cy="196.0" r="5.1" fill="#ea016f"/><circle cx="823.8" cy="202.7" r="5.1" fill="#6354cd"/><circle cx="856.2" cy="196.0" r="5.1" fill="#f6015c"/><circle cx="825.0" cy="189.3" r="5.1" fill="#9622a5"/><circle cx="791.4" cy="193.8" r="5.1" fill="#a317a0"/><circle cx="828.3" cy="196.0" r="5.1" fill="#0075e6"/><circle cx="805.3" cy="202.7" r="5.1" fill="#006ce1"/><circle cx="814.7" cy="196.0" r="5.1" fill="#6d4dc8"/><circle cx="861.7" cy="200.5" r="5.1" fill="#f6015c"/><circle cx="794.0" cy="193.8" r="5.1" fill="#a317a0"/><circle cx="828.1" cy="207.2" r="5.1" fill="#0079e9"/><circle cx="874.0" cy="189.3" r="5.1" fill="#bb0196"/><circle cx="797.3" cy="200.5" r="5.1" fill="#007be9"/><circle cx="799.7" cy="196.0" r="5.1" fill="#6d4dc8"/><circle cx="866.2" cy="193.8" r="5.1" fill="#8737b5"/><circle cx="819.5" cy="200.5" r="5.1" fill="#0075e6"/><circle cx="862.0" cy="191.5" r="5.1" fill="#f80156"/><circle cx="805.8" cy="196.0" r="5.1" fill="#7747c2"/><circle cx="859.5" cy="187.0" r="5.1" fill="#f6015c"/><circle cx="750.5" cy="196.0" r="5.1" fill="#9c1da3"/><circle cx="757.0" cy="196.0" r="5.1" fill="#007deb"/><circle cx="764.0" cy="195.0" r="5.1" fill="#007deb"/><circle cx="768.0" cy="194.0" r="5.1" fill="#007be9"/><circle cx="772.0" cy="196.0" r="5.1" fill="#007deb"/><circle cx="779.0" cy="191.0" r="5.1" fill="#007deb"/><circle cx="778.0" cy="198.0" r="5.1" fill="#007feb"/><circle cx="783.0" cy="195.0" r="5.1" fill="#007feb"/><circle cx="786.0" cy="199.0" r="5.1" fill="#007bea"/><circle cx="791.0" cy="190.0" r="5.1" fill="#007eea"/><circle cx="794.0" cy="198.0" r="5.1" fill="#007be9"/><circle cx="792.0" cy="193.0" r="5.1" fill="#a317a0"/><circle cx="798.0" cy="200.0" r="5.1" fill="#007deb"/><circle cx="792.0" cy="187.0" r="5.1" fill="#0078e8"/><circle cx="792.0" cy="200.0" r="5.1" fill="#007deb"/><circle cx="799.0" cy="193.0" r="5.1" fill="#0075e6"/><circle cx="800.0" cy="200.0" r="5.1" fill="#007be9"/><circle cx="802.0" cy="189.0" r="5.1" fill="#5659d2"/><circle cx="805.0" cy="185.0" r="5.1" fill="#823db9"/><circle cx="806.0" cy="195.0" r="5.1" fill="#007bea"/><circle cx="804.0" cy="204.0" r="5.1" fill="#007be9"/><circle cx="809.0" cy="206.0" r="5.1" fill="#007eea"/><circle cx="810.0" cy="193.0" r="5.1" fill="#0073e5"/><circle cx="812.0" cy="200.0" r="5.1" fill="#007be9"/><circle cx="808.0" cy="202.0" r="5.1" fill="#007deb"/><circle cx="814.0" cy="186.0" r="5.1" fill="#1768de"/><circle cx="814.0" cy="180.0" r="5.1" fill="#a01aa2"/><circle cx="815.0" cy="208.0" r="5.1" fill="#007deb"/><circle cx="818.0" cy="209.0" r="5.1" fill="#0078e8"/><circle cx="814.0" cy="193.0" r="5.1" fill="#007bea"/><circle cx="827.0" cy="170.0" r="5.1" fill="#8737b5"/><circle cx="826.0" cy="176.0" r="5.1" fill="#8935b3"/><circle cx="832.0" cy="178.0" r="5.1" fill="#7f40bc"/><circle cx="823.0" cy="182.0" r="5.1" fill="#8935b3"/><circle cx="830.0" cy="184.0" r="5.1" fill="#704bc6"/><circle cx="834.0" cy="187.0" r="5.1" fill="#5f56cf"/><circle cx="820.0" cy="189.0" r="5.1" fill="#8935b3"/><circle cx="824.0" cy="189.0" r="5.1" fill="#9324a7"/><circle cx="817.0" cy="195.0" r="5.1" fill="#b2019a"/><circle cx="823.0" cy="196.0" r="5.1" fill="#9622a5"/><circle cx="829.0" cy="192.0" r="5.1" fill="#8935b3"/><circle cx="833.0" cy="194.0" r="5.1" fill="#0071e5"/><circle cx="835.0" cy="198.0" r="5.1" fill="#9128a9"/><circle cx="819.0" cy="201.0" r="5.1" fill="#b50199"/><circle cx="825.0" cy="202.0" r="5.1" fill="#a6139f"/><circle cx="831.0" cy="203.0" r="5.1" fill="#a01aa2"/><circle cx="836.0" cy="202.0" r="5.1" fill="#a6139f"/><circle cx="820.0" cy="207.0" r="5.1" fill="#c30191"/><circle cx="827.0" cy="208.0" r="5.1" fill="#9324a7"/><circle cx="833.0" cy="209.0" r="5.1" fill="#8e2fae"/><circle cx="825.0" cy="213.0" r="5.1" fill="#704bc6"/><circle cx="830.0" cy="214.0" r="5.1" fill="#7c42be"/><circle cx="824.0" cy="217.0" r="5.1" fill="#6a4fca"/><circle cx="826.0" cy="219.0" r="5.1" fill="#7349c4"/><circle cx="840.0" cy="191.0" r="5.1" fill="#ac0b9d"/><circle cx="844.0" cy="187.0" r="5.1" fill="#8935b3"/><circle cx="846.0" cy="190.0" r="5.1" fill="#843ab7"/><circle cx="842.0" cy="202.0" r="5.1" fill="#6751cc"/><circle cx="845.0" cy="200.0" r="5.1" fill="#7c42be"/><circle cx="840.0" cy="197.0" r="5.1" fill="#a6139f"/><circle cx="857.0" cy="176.0" r="5.1" fill="#f30162"/><circle cx="868.0" cy="175.0" r="5.1" fill="#f6015c"/><circle cx="862.0" cy="179.0" r="5.1" fill="#f40160"/><circle cx="873.0" cy="178.0" r="5.1" fill="#f10164"/><circle cx="854.0" cy="183.0" r="5.1" fill="#f10164"/><circle cx="868.0" cy="184.0" r="5.1" fill="#d30185"/><circle cx="874.0" cy="185.0" r="5.1" fill="#ea016f"/><circle cx="852.0" cy="190.0" r="5.1" fill="#f10164"/><circle cx="869.0" cy="191.0" r="5.1" fill="#f10164"/><circle cx="877.0" cy="190.0" r="5.1" fill="#f10164"/><circle cx="851.0" cy="197.0" r="5.1" fill="#ed016b"/><circle cx="858.0" cy="198.0" r="5.1" fill="#f30162"/><circle cx="865.0" cy="198.0" r="5.1" fill="#f80156"/><circle cx="873.0" cy="196.0" r="5.1" fill="#f10164"/><circle cx="852.0" cy="204.0" r="5.1" fill="#f00167"/><circle cx="860.0" cy="205.0" r="5.1" fill="#cc018b"/><circle cx="868.0" cy="204.0" r="5.1" fill="#f00167"/><circle cx="875.0" cy="203.0" r="5.1" fill="#ec016d"/><circle cx="855.0" cy="210.0" r="5.1" fill="#f00167"/><circle cx="863.0" cy="210.0" r="5.1" fill="#ce0189"/><circle cx="871.0" cy="210.0" r="5.1" fill="#f30162"/><circle cx="858.0" cy="216.0" r="5.1" fill="#f40160"/><circle cx="866.0" cy="215.0" r="5.1" fill="#f30162"/><circle cx="873.0" cy="214.0" r="5.1" fill="#ea016f"/><circle cx="856.0" cy="218.0" r="5.1" fill="#ec016d"/><circle cx="877.0" cy="187.0" r="5.1" fill="#ef0169"/><circle cx="878.0" cy="193.0" r="5.1" fill="#f00167"/><circle cx="878.0" cy="202.0" r="5.1" fill="#f40160"/><circle cx="873.0" cy="210.0" r="5.1" fill="#db017e"/><circle cx="871.0" cy="214.0" r="5.1" fill="#ea016f"/><circle cx="861.0" cy="190.0" r="5.1" fill="#6751cc"/><circle cx="880.0" cy="198.0" r="5.1" fill="#b2019a"/><circle cx="880.0" cy="194.0" r="5.1" fill="#d30185"/><circle cx="880.0" cy="200.0" r="5.1" fill="#d10187"/><circle cx="885.0" cy="193.0" r="5.1" fill="#ce0189"/><circle cx="888.0" cy="198.0" r="5.1" fill="#c50190"/><circle cx="886.0" cy="193.0" r="5.1" fill="#c00192"/><circle cx="887.0" cy="199.0" r="5.1" fill="#b2019a"/><circle cx="894.0" cy="193.0" r="5.1" fill="#c50190"/><circle cx="895.0" cy="197.0" r="5.1" fill="#be0194"/><circle cx="902.0" cy="196.0" r="5.1" fill="#c50190"/><circle cx="934.5" cy="196.0" r="5.1" fill="#f7015a"/>
</g>
<g id="row3">
<circle cx="846.7" cy="271.3" r="5.1" fill="#9128a9"/><circle cx="824.7" cy="280.3" r="5.1" fill="#007deb"/><circle cx="845.5" cy="289.3" r="5.1" fill="#9622a5"/><circle cx="841.0" cy="282.5" r="5.1" fill="#ec016d"/><circle cx="821.2" cy="278.0" r="5.1" fill="#007deb"/><circle cx="848.6" cy="284.8" r="5.1" fill="#ec016d"/><circle cx="812.9" cy="271.3" r="5.1" fill="#0081eb"/><circle cx="826.6" cy="280.3" r="5.1" fill="#7c42be"/><circle cx="826.3" cy="282.5" r="5.1" fill="#f9014f"/><circle cx="820.4" cy="271.3" r="5.1" fill="#0082eb"/><circle cx="847.3" cy="287.0" r="5.1" fill="#f9014f"/><circle cx="825.5" cy="273.6" r="5.1" fill="#007bea"/><circle cx="877.6" cy="275.8" r="5.1" fill="#8737b5"/><circle cx="841.7" cy="266.8" r="5.1" fill="#f80154"/><circle cx="827.4" cy="275.8" r="5.1" fill="#7f40bc"/><circle cx="855.5" cy="282.5" r="5.1" fill="#ea016f"/><circle cx="855.4" cy="275.8" r="5.1" fill="#007bea"/><circle cx="796.8" cy="278.0" r="5.1" fill="#007feb"/><circle cx="851.9" cy="269.1" r="5.1" fill="#a317a0"/><circle cx="827.2" cy="271.3" r="5.1" fill="#8935b3"/><circle cx="835.5" cy="275.8" r="5.1" fill="#ef0169"/><circle cx="838.6" cy="269.1" r="5.1" fill="#5f56cf"/><circle cx="817.7" cy="278.0" r="5.1" fill="#007eea"/><circle cx="853.9" cy="278.0" r="5.1" fill="#2d65dd"/><circle cx="871.1" cy="278.0" r="5.1" fill="#a6139f"/><circle cx="838.9" cy="275.8" r="5.1" fill="#9c1da3"/><circle cx="850.0" cy="282.5" r="5.1" fill="#7945c0"/><circle cx="825.9" cy="273.6" r="5.1" fill="#007deb"/><circle cx="855.5" cy="271.3" r="5.1" fill="#6a4fca"/><circle cx="844.0" cy="289.3" r="5.1" fill="#f00167"/><circle cx="794.8" cy="273.6" r="5.1" fill="#007eea"/><circle cx="864.9" cy="278.0" r="5.1" fill="#c50190"/><circle cx="836.6" cy="269.1" r="5.1" fill="#f9014f"/><circle cx="840.0" cy="287.0" r="5.1" fill="#f9014f"/><circle cx="827.6" cy="278.0" r="5.1" fill="#f40160"/><circle cx="798.2" cy="273.6" r="5.1" fill="#0082eb"/><circle cx="850.8" cy="284.8" r="5.1" fill="#f30162"/><circle cx="865.1" cy="271.3" r="5.1" fill="#6d4dc8"/><circle cx="859.9" cy="275.8" r="5.1" fill="#6d4dc8"/><circle cx="850.6" cy="289.3" r="5.1" fill="#f10164"/><circle cx="873.9" cy="275.8" r="5.1" fill="#823db9"/><circle cx="811.6" cy="275.8" r="5.1" fill="#0079e9"/><circle cx="849.7" cy="273.6" r="5.1" fill="#9324a7"/><circle cx="813.5" cy="278.0" r="5.1" fill="#007bea"/><circle cx="867.9" cy="273.6" r="5.1" fill="#9128a9"/><circle cx="840.3" cy="271.3" r="5.1" fill="#f7015a"/><circle cx="835.1" cy="282.5" r="5.1" fill="#7349c4"/><circle cx="849.6" cy="266.8" r="5.1" fill="#f90151"/><circle cx="843.4" cy="275.8" r="5.1" fill="#7c42be"/><circle cx="809.6" cy="271.3" r="5.1" fill="#007deb"/><circle cx="808.8" cy="275.8" r="5.1" fill="#007feb"/><circle cx="841.6" cy="269.1" r="5.1" fill="#9622a5"/><circle cx="844.2" cy="280.3" r="5.1" fill="#8f2cab"/><circle cx="844.8" cy="262.3" r="5.1" fill="#823db9"/><circle cx="876.2" cy="278.0" r="5.1" fill="#8c32b1"/><circle cx="851.6" cy="273.6" r="5.1" fill="#006ae0"/><circle cx="869.3" cy="273.6" r="5.1" fill="#8737b5"/><circle cx="845.6" cy="264.6" r="5.1" fill="#f80156"/><circle cx="815.0" cy="271.3" r="5.1" fill="#0081eb"/><circle cx="813.2" cy="273.6" r="5.1" fill="#007deb"/><circle cx="846.6" cy="291.5" r="5.1" fill="#f6015c"/><circle cx="835.9" cy="282.5" r="5.1" fill="#d90180"/><circle cx="869.7" cy="275.8" r="5.1" fill="#991fa4"/><circle cx="848.3" cy="280.3" r="5.1" fill="#006ae0"/><circle cx="868.0" cy="275.8" r="5.1" fill="#7945c0"/><circle cx="826.1" cy="278.0" r="5.1" fill="#7f40bc"/><circle cx="848.0" cy="273.6" r="5.1" fill="#8737b5"/><circle cx="839.4" cy="266.8" r="5.1" fill="#f90151"/><circle cx="803.6" cy="273.6" r="5.1" fill="#007be9"/><circle cx="810.9" cy="275.8" r="5.1" fill="#007deb"/><circle cx="843.1" cy="278.0" r="5.1" fill="#0071e5"/><circle cx="826.9" cy="269.1" r="5.1" fill="#a6139f"/><circle cx="850.2" cy="291.5" r="5.1" fill="#ed016b"/><circle cx="858.5" cy="273.6" r="5.1" fill="#4260d8"/><circle cx="852.3" cy="284.8" r="5.1" fill="#ef0169"/><circle cx="838.4" cy="278.0" r="5.1" fill="#f6015c"/><circle cx="874.7" cy="273.6" r="5.1" fill="#8f2cab"/><circle cx="834.8" cy="278.0" r="5.1" fill="#006ce1"/><circle cx="851.5" cy="282.5" r="5.1" fill="#5b57d1"/><circle cx="839.6" cy="271.3" r="5.1" fill="#db017e"/><circle cx="874.6" cy="278.0" r="5.1" fill="#823db9"/><circle cx="817.3" cy="275.8" r="5.1" fill="#007deb"/><circle cx="864.1" cy="275.8" r="5.1" fill="#e40176"/><circle cx="850.5" cy="264.6" r="5.1" fill="#f10164"/><circle cx="847.4" cy="282.5" r="5.1" fill="#5f56cf"/><circle cx="850.8" cy="271.3" r="5.1" fill="#8c32b1"/><circle cx="834.1" cy="269.1" r="5.1" fill="#ce0189"/><circle cx="865.5" cy="280.3" r="5.1" fill="#a90f9e"/><circle cx="814.2" cy="275.8" r="5.1" fill="#007feb"/><circle cx="846.3" cy="269.1" r="5.1" fill="#0071e4"/><circle cx="830.9" cy="278.0" r="5.1" fill="#a317a0"/><circle cx="850.3" cy="278.0" r="5.1" fill="#a6139f"/><circle cx="845.5" cy="284.8" r="5.1" fill="#f5015e"/><circle cx="870.7" cy="275.8" r="5.1" fill="#c00192"/><circle cx="847.2" cy="280.3" r="5.1" fill="#2467de"/><circle cx="843.6" cy="287.0" r="5.1" fill="#a6139f"/><circle cx="855.2" cy="266.8" r="5.1" fill="#f40160"/><circle cx="839.2" cy="273.6" r="5.1" fill="#db017e"/><circle cx="810.8" cy="273.6" r="5.1" fill="#007bea"/><circle cx="853.3" cy="271.3" r="5.1" fill="#e50174"/><circle cx="845.8" cy="257.8" r="5.1" fill="#ef0169"/><circle cx="819.2" cy="275.8" r="5.1" fill="#0081eb"/><circle cx="820.9" cy="275.8" r="5.1" fill="#0082eb"/><circle cx="830.6" cy="273.6" r="5.1" fill="#9128a9"/><circle cx="862.2" cy="275.8" r="5.1" fill="#bb0196"/><circle cx="872.5" cy="273.6" r="5.1" fill="#8e2fae"/><circle cx="855.0" cy="280.3" r="5.1" fill="#9c1da3"/><circle cx="849.2" cy="271.3" r="5.1" fill="#0078e8"/><circle cx="824.5" cy="269.1" r="5.1" fill="#0082eb"/><circle cx="854.6" cy="269.1" r="5.1" fill="#6d4dc8"/><circle cx="845.4" cy="287.0" r="5.1" fill="#ef0169"/><circle cx="842.1" cy="273.6" r="5.1" fill="#f9014f"/><circle cx="854.1" cy="269.1" r="5.1" fill="#9622a5"/><circle cx="862.8" cy="273.6" r="5.1" fill="#c9018c"/><circle cx="849.6" cy="278.0" r="5.1" fill="#ea016f"/><circle cx="806.5" cy="271.3" r="5.1" fill="#0081eb"/><circle cx="837.8" cy="269.1" r="5.1" fill="#535bd4"/><circle cx="858.0" cy="278.0" r="5.1" fill="#f80156"/><circle cx="858.4" cy="275.8" r="5.1" fill="#007deb"/><circle cx="840.8" cy="275.8" r="5.1" fill="#e0017a"/><circle cx="837.8" cy="275.8" r="5.1" fill="#8e2fae"/><circle cx="853.8" cy="282.5" r="5.1" fill="#ec016d"/><circle cx="843.8" cy="284.8" r="5.1" fill="#f40160"/><circle cx="832.5" cy="273.6" r="5.1" fill="#4e5dd6"/><circle cx="866.5" cy="273.6" r="5.1" fill="#b2019a"/><circle cx="855.2" cy="273.6" r="5.1" fill="#3664db"/><circle cx="794.0" cy="275.8" r="5.1" fill="#007bea"/><circle cx="858.2" cy="280.3" r="5.1" fill="#7747c2"/><circle cx="856.0" cy="278.0" r="5.1" fill="#f40160"/><circle cx="860.8" cy="280.3" r="5.1" fill="#f00167"/><circle cx="816.3" cy="271.3" r="5.1" fill="#007be9"/><circle cx="819.2" cy="273.6" r="5.1" fill="#007deb"/><circle cx="843.6" cy="278.0" r="5.1" fill="#d70181"/><circle cx="845.9" cy="275.8" r="5.1" fill="#1768de"/><circle cx="823.5" cy="273.6" r="5.1" fill="#0082eb"/><circle cx="806.0" cy="273.6" r="5.1" fill="#0081eb"/><circle cx="876.3" cy="275.8" r="5.1" fill="#8737b5"/><circle cx="868.7" cy="278.0" r="5.1" fill="#5659d2"/><circle cx="812.6" cy="273.6" r="5.1" fill="#0084ec"/><circle cx="838.8" cy="280.3" r="5.1" fill="#d50183"/><circle cx="854.0" cy="273.6" r="5.1" fill="#ec016d"/><circle cx="844.3" cy="293.8" r="5.1" fill="#f80154"/><circle cx="814.9" cy="273.6" r="5.1" fill="#007eea"/><circle cx="850.8" cy="280.3" r="5.1" fill="#7945c0"/><circle cx="845.7" cy="262.3" r="5.1" fill="#f80154"/><circle cx="852.1" cy="266.8" r="5.1" fill="#f10164"/><circle cx="844.3" cy="271.3" r="5.1" fill="#6751cc"/><circle cx="797.7" cy="278.0" r="5.1" fill="#0078e8"/><circle cx="836.6" cy="273.6" r="5.1" fill="#f9014f"/><circle cx="804.0" cy="275.8" r="5.1" fill="#007bea"/><circle cx="829.0" cy="271.3" r="5.1" fill="#5f56cf"/><circle cx="867.0" cy="278.0" r="5.1" fill="#9622a5"/><circle cx="877.0" cy="273.6" r="5.1" fill="#7349c4"/><circle cx="838.5" cy="271.3" r="5.1" fill="#f5015e"/><circle cx="866.4" cy="275.8" r="5.1" fill="#6354cd"/><circle cx="831.9" cy="271.3" r="5.1" fill="#6751cc"/><circle cx="849.2" cy="282.5" r="5.1" fill="#f30162"/><circle cx="800.5" cy="275.8" r="5.1" fill="#0081eb"/><circle cx="794.4" cy="278.0" r="5.1" fill="#007deb"/><circle cx="846.6" cy="293.8" r="5.1" fill="#a6139f"/><circle cx="859.0" cy="271.3" r="5.1" fill="#ed016b"/><circle cx="823.0" cy="280.3" r="5.1" fill="#007bea"/><circle cx="843.5" cy="257.8" r="5.1" fill="#e90170"/><circle cx="850.7" cy="275.8" r="5.1" fill="#1768de"/><circle cx="797.4" cy="275.8" r="5.1" fill="#007feb"/><circle cx="856.5" cy="271.3" r="5.1" fill="#ed016b"/><circle cx="861.8" cy="280.3" r="5.1" fill="#f30162"/><circle cx="839.9" cy="284.8" r="5.1" fill="#f00167"/><circle cx="869.5" cy="278.0" r="5.1" fill="#af059c"/><circle cx="862.6" cy="280.3" r="5.1" fill="#a6139f"/><circle cx="820.1" cy="278.0" r="5.1" fill="#007bea"/><circle cx="806.9" cy="275.8" r="5.1" fill="#007eea"/><circle cx="866.5" cy="271.3" r="5.1" fill="#9622a5"/><circle cx="809.6" cy="273.6" r="5.1" fill="#007eea"/><circle cx="853.7" cy="266.8" r="5.1" fill="#e70172"/><circle cx="842.2" cy="275.8" r="5.1" fill="#ed016b"/><circle cx="856.3" cy="278.0" r="5.1" fill="#3664db"/><circle cx="829.0" cy="273.6" r="5.1" fill="#5b57d1"/><circle cx="821.8" cy="275.8" r="5.1" fill="#007bea"/><circle cx="842.0" cy="271.3" r="5.1" fill="#5f56cf"/><circle cx="830.6" cy="273.6" r="5.1" fill="#8c32b1"/><circle cx="832.5" cy="280.3" r="5.1" fill="#f80158"/><circle cx="808.1" cy="273.6" r="5.1" fill="#0079e9"/><circle cx="872.1" cy="273.6" r="5.1" fill="#9c1da3"/><circle cx="872.9" cy="278.0" r="5.1" fill="#823db9"/><circle cx="873.7" cy="275.8" r="5.1" fill="#843ab7"/><circle cx="869.2" cy="280.3" r="5.1" fill="#843ab7"/><circle cx="841.0" cy="278.0" r="5.1" fill="#7349c4"/><circle cx="800.3" cy="278.0" r="5.1" fill="#007feb"/><circle cx="822.0" cy="273.6" r="5.1" fill="#007eea"/><circle cx="839.7" cy="282.5" r="5.1" fill="#3664db"/><circle cx="845.7" cy="291.5" r="5.1" fill="#f7015a"/><circle cx="862.2" cy="273.6" r="5.1" fill="#8e2fae"/><circle cx="829.0" cy="278.0" r="5.1" fill="#e70172"/><circle cx="827.9" cy="280.3" r="5.1" fill="#843ab7"/><circle cx="846.5" cy="266.8" r="5.1" fill="#ed016b"/><circle cx="844.5" cy="266.8" r="5.1" fill="#ec016d"/><circle cx="836.1" cy="271.3" r="5.1" fill="#f80156"/><circle cx="825.0" cy="278.0" r="5.1" fill="#007be9"/><circle cx="812.5" cy="278.0" r="5.1" fill="#007be9"/><circle cx="828.8" cy="282.5" r="5.1" fill="#1768de"/><circle cx="833.3" cy="278.0" r="5.1" fill="#823db9"/><circle cx="800.3" cy="273.6" r="5.1" fill="#007deb"/><circle cx="860.4" cy="278.0" r="5.1" fill="#843ab7"/><circle cx="834.8" cy="275.8" r="5.1" fill="#7747c2"/><circle cx="835.5" cy="278.0" r="5.1" fill="#006ce1"/><circle cx="860.5" cy="271.3" r="5.1" fill="#f40160"/><circle cx="856.7" cy="275.8" r="5.1" fill="#f00167"/><circle cx="837.3" cy="282.5" r="5.1" fill="#5f56cf"/><circle cx="803.3" cy="273.6" r="5.1" fill="#007feb"/><circle cx="803.3" cy="278.0" r="5.1" fill="#007be9"/><circle cx="831.3" cy="280.3" r="5.1" fill="#843ab7"/><circle cx="846.2" cy="282.5" r="5.1" fill="#e90170"/><circle cx="837.0" cy="273.6" r="5.1" fill="#4e5dd6"/><circle cx="844.4" cy="273.6" r="5.1" fill="#b2019a"/><circle cx="830.8" cy="275.8" r="5.1" fill="#d30185"/><circle cx="842.2" cy="269.1" r="5.1" fill="#f9014f"/><circle cx="809.5" cy="278.0" r="5.1" fill="#007deb"/><circle cx="845.3" cy="271.3" r="5.1" fill="#f00167"/><circle cx="828.9" cy="269.1" r="5.1" fill="#2467de"/><circle cx="851.6" cy="275.8" r="5.1" fill="#007feb"/><circle cx="846.3" cy="260.1" r="5.1" fill="#ef0169"/><circle cx="848.1" cy="266.8" r="5.1" fill="#f10164"/><circle cx="862.2" cy="278.0" r="5.1" fill="#a317a0"/><circle cx="824.0" cy="278.0" r="5.1" fill="#007eea"/><circle cx="851.9" cy="278.0" r="5.1" fill="#5f56cf"/><circle cx="795.5" cy="275.8" r="5.1" fill="#007eea"/><circle cx="844.2" cy="269.1" r="5.1" fill="#ed016b"/><circle cx="845.6" cy="278.0" r="5.1" fill="#ec016d"/><circle cx="799.9" cy="275.8" r="5.1" fill="#0084ec"/><circle cx="802.5" cy="275.8" r="5.1" fill="#007bea"/><circle cx="807.0" cy="278.0" r="5.1" fill="#0084ec"/><circle cx="846.7" cy="284.8" r="5.1" fill="#e70172"/><circle cx="843.6" cy="291.5" r="5.1" fill="#f9014f"/><circle cx="839.3" cy="264.6" r="5.1" fill="#c30191"/><circle cx="847.6" cy="278.0" r="5.1" fill="#ea016f"/><circle cx="824.6" cy="275.8" r="5.1" fill="#0079e9"/><circle cx="822.8" cy="271.3" r="5.1" fill="#007deb"/><circle cx="847.3" cy="260.1" r="5.1" fill="#d90180"/><circle cx="857.6" cy="280.3" r="5.1" fill="#e50174"/><circle cx="841.4" cy="273.6" r="5.1" fill="#8e2fae"/><circle cx="864.0" cy="278.0" r="5.1" fill="#991fa4"/><circle cx="800.1" cy="273.6" r="5.1" fill="#007eea"/><circle cx="818.0" cy="278.0" r="5.1" fill="#007bea"/><circle cx="805.9" cy="275.8" r="5.1" fill="#007bea"/><circle cx="844.2" cy="282.5" r="5.1" fill="#f9014f"/><circle cx="834.9" cy="280.3" r="5.1" fill="#9128a9"/><circle cx="843.6" cy="264.6" r="5.1" fill="#f80156"/><circle cx="850.3" cy="260.1" r="5.1" fill="#f6015c"/><circle cx="847.9" cy="275.8" r="5.1" fill="#5f56cf"/><circle cx="877.6" cy="273.6" r="5.1" fill="#9128a9"/><circle cx="841.0" cy="280.3" r="5.1" fill="#3664db"/><circle cx="847.0" cy="262.3" r="5.1" fill="#e0017a"/><circle cx="823.7" cy="275.8" r="5.1" fill="#0082eb"/><circle cx="831.4" cy="269.1" r="5.1" fill="#823db9"/><circle cx="850.2" cy="269.1" r="5.1" fill="#823db9"/><circle cx="841.1" cy="284.8" r="5.1" fill="#f5015e"/><circle cx="820.7" cy="273.6" r="5.1" fill="#007feb"/><circle cx="851.8" cy="280.3" r="5.1" fill="#843ab7"/><circle cx="829.5" cy="275.8" r="5.1" fill="#6d4dc8"/><circle cx="824.7" cy="271.3" r="5.1" fill="#007deb"/><circle cx="854.0" cy="280.3" r="5.1" fill="#db017e"/><circle cx="837.4" cy="280.3" r="5.1" fill="#f40160"/><circle cx="851.3" cy="273.6" r="5.1" fill="#ce0189"/><circle cx="846.5" cy="280.3" r="5.1" fill="#e90170"/><circle cx="808.2" cy="271.3" r="5.1" fill="#007deb"/><circle cx="816.5" cy="273.6" r="5.1" fill="#007deb"/><circle cx="855.4" cy="284.8" r="5.1" fill="#ec016d"/><circle cx="865.0" cy="275.8" r="5.1" fill="#9128a9"/><circle cx="836.7" cy="280.3" r="5.1" fill="#0071e5"/><circle cx="851.6" cy="271.3" r="5.1" fill="#ed016b"/><circle cx="833.4" cy="271.3" r="5.1" fill="#843ab7"/><circle cx="865.7" cy="273.6" r="5.1" fill="#7945c0"/><circle cx="799.0" cy="278.0" r="5.1" fill="#0081eb"/><circle cx="832.4" cy="275.8" r="5.1" fill="#f80156"/><circle cx="866.3" cy="280.3" r="5.1" fill="#c00192"/><circle cx="847.4" cy="289.3" r="5.1" fill="#f80158"/><circle cx="828.0" cy="275.8" r="5.1" fill="#0075e6"/><circle cx="839.4" cy="278.0" r="5.1" fill="#843ab7"/><circle cx="853.9" cy="275.8" r="5.1" fill="#7747c2"/><circle cx="859.3" cy="282.5" r="5.1" fill="#c7018e"/><circle cx="850.6" cy="266.8" r="5.1" fill="#f9014f"/><circle cx="851.3" cy="262.3" r="5.1" fill="#f30162"/><circle cx="857.4" cy="273.6" r="5.1" fill="#9128a9"/><circle cx="806.1" cy="278.0" r="5.1" fill="#007eea"/><circle cx="849.5" cy="269.1" r="5.1" fill="#e90170"/><circle cx="841.8" cy="280.3" r="5.1" fill="#823db9"/><circle cx="799.0" cy="279.5" r="5.1" fill="#f7015a"/><circle cx="848.1" cy="264.6" r="5.1" fill="#e90170"/><circle cx="860.0" cy="273.6" r="5.1" fill="#8e2fae"/><circle cx="849.4" cy="275.8" r="5.1" fill="#f6015c"/><circle cx="847.4" cy="269.1" r="5.1" fill="#f30162"/><circle cx="842.0" cy="282.5" r="5.1" fill="#e40176"/><circle cx="797.0" cy="273.6" r="5.1" fill="#007bea"/><circle cx="846.2" cy="273.6" r="5.1" fill="#e0017a"/><circle cx="832.1" cy="282.5" r="5.1" fill="#006ce1"/><circle cx="834.2" cy="271.3" r="5.1" fill="#e20178"/><circle cx="853.5" cy="284.8" r="5.1" fill="#f00167"/><circle cx="851.3" cy="287.0" r="5.1" fill="#8935b3"/><circle cx="815.4" cy="275.8" r="5.1" fill="#007feb"/><circle cx="844.5" cy="260.1" r="5.1" fill="#e90170"/><circle cx="814.8" cy="278.0" r="5.1" fill="#007eea"/><circle cx="834.6" cy="273.6" r="5.1" fill="#9128a9"/><circle cx="756.5" cy="275.8" r="5.1" fill="#007feb"/><circle cx="762.0" cy="275.8" r="5.1" fill="#007eea"/><circle cx="767.0" cy="275.8" r="5.1" fill="#007deb"/><circle cx="771.5" cy="275.8" r="5.1" fill="#007eea"/><circle cx="775.0" cy="275.8" r="5.1" fill="#007eea"/><circle cx="786.0" cy="275.8" r="5.1" fill="#007feb"/><circle cx="790.0" cy="273.8" r="5.1" fill="#007eea"/><circle cx="794.0" cy="272.8" r="5.1" fill="#007bea"/><circle cx="793.0" cy="278.8" r="5.1" fill="#007eea"/><circle cx="800.0" cy="280.4" r="5.1" fill="#f7015a"/><circle cx="797.0" cy="278.8" r="5.1" fill="#007eea"/><circle cx="803.0" cy="279.0" r="5.1" fill="#007deb"/><circle cx="798.0" cy="273.8" r="5.1" fill="#007eea"/><circle cx="802.0" cy="271.8" r="5.1" fill="#007eea"/><circle cx="806.0" cy="268.8" r="5.1" fill="#007eea"/><circle cx="805.0" cy="274.8" r="5.1" fill="#007deb"/><circle cx="809.0" cy="279.8" r="5.1" fill="#007deb"/><circle cx="806.0" cy="279.8" r="5.1" fill="#007feb"/><circle cx="812.0" cy="269.8" r="5.1" fill="#007feb"/><circle cx="815.0" cy="268.8" r="5.1" fill="#007eea"/><circle cx="820.0" cy="268.8" r="5.1" fill="#007bea"/><circle cx="810.0" cy="279.0" r="5.1" fill="#007deb"/><circle cx="815.0" cy="279.0" r="5.1" fill="#007eea"/><circle cx="820.0" cy="279.0" r="5.1" fill="#007bea"/><circle cx="824.0" cy="278.8" r="5.1" fill="#007bea"/><circle cx="816.0" cy="274.8" r="5.1" fill="#007bea"/><circle cx="811.0" cy="274.8" r="5.1" fill="#007bea"/><circle cx="821.0" cy="273.8" r="5.1" fill="#007be9"/><circle cx="801.0" cy="276.8" r="5.1" fill="#007eea"/><circle cx="824.0" cy="269.8" r="5.1" fill="#006ee2"/><circle cx="828.0" cy="287.8" r="5.1" fill="#006ae0"/><circle cx="826.0" cy="287.0" r="5.1" fill="#3d62da"/><circle cx="829.0" cy="263.8" r="5.1" fill="#7747c2"/><circle cx="831.0" cy="268.8" r="5.1" fill="#6354cd"/><circle cx="830.0" cy="279.8" r="5.1" fill="#7747c2"/><circle cx="835.0" cy="281.8" r="5.1" fill="#6a4fca"/><circle cx="842.0" cy="251.0" r="5.1" fill="#a90f9e"/><circle cx="844.0" cy="249.0" r="5.1" fill="#d90180"/><circle cx="848.0" cy="252.0" r="5.1" fill="#f6015c"/><circle cx="840.0" cy="257.0" r="5.1" fill="#d30185"/><circle cx="848.0" cy="258.0" r="5.1" fill="#f30162"/><circle cx="853.0" cy="263.0" r="5.1" fill="#f00167"/><circle cx="844.0" cy="262.0" r="5.1" fill="#ed016b"/><circle cx="830.0" cy="265.0" r="5.1" fill="#7f40bc"/><circle cx="858.0" cy="268.0" r="5.1" fill="#704bc6"/><circle cx="867.0" cy="270.0" r="5.1" fill="#ce0189"/><circle cx="868.0" cy="274.0" r="5.1" fill="#d10187"/><circle cx="869.0" cy="282.0" r="5.1" fill="#8737b5"/><circle cx="864.0" cy="283.0" r="5.1" fill="#823db9"/><circle cx="876.0" cy="275.0" r="5.1" fill="#843ab7"/><circle cx="879.0" cy="278.0" r="5.1" fill="#843ab7"/><circle cx="882.0" cy="274.0" r="5.1" fill="#823db9"/><circle cx="888.0" cy="276.0" r="5.1" fill="#704bc6"/><circle cx="894.0" cy="276.0" r="5.1" fill="#7747c2"/><circle cx="908.5" cy="276.0" r="5.1" fill="#7349c4"/><circle cx="873.0" cy="276.8" r="5.1" fill="#8737b5"/><circle cx="846.0" cy="272.8" r="5.1" fill="#8935b3"/><circle cx="836.0" cy="280.0" r="5.1" fill="#6d4dc8"/><circle cx="843.0" cy="290.0" r="5.1" fill="#7349c4"/><circle cx="848.0" cy="293.0" r="5.1" fill="#7349c4"/><circle cx="840.0" cy="292.0" r="5.1" fill="#6751cc"/><circle cx="855.0" cy="284.0" r="5.1" fill="#7349c4"/><circle cx="858.0" cy="283.0" r="5.1" fill="#6354cd"/><circle cx="862.0" cy="277.0" r="5.1" fill="#5f56cf"/><circle cx="847.0" cy="284.8" r="5.1" fill="#f7015a"/><circle cx="853.0" cy="282.8" r="5.1" fill="#f6015c"/><circle cx="849.0" cy="282.0" r="5.1" fill="#f7015a"/><circle cx="852.0" cy="287.0" r="5.1" fill="#f7015a"/><circle cx="838.0" cy="286.5" r="5.1" fill="#af059c"/><circle cx="829.0" cy="286.0" r="5.1" fill="#f00167"/><circle cx="846.0" cy="300.0" r="5.1" fill="#f7015a"/><circle cx="844.0" cy="302.0" r="5.1" fill="#f90151"/><circle cx="849.0" cy="299.0" r="5.1" fill="#f00167"/><circle cx="842.0" cy="297.8" r="5.1" fill="#f10164"/><circle cx="840.0" cy="265.0" r="5.1" fill="#7945c0"/><circle cx="851.0" cy="271.0" r="5.1" fill="#823db9"/><circle cx="833.0" cy="273.0" r="5.1" fill="#b2019a"/><circle cx="856.0" cy="273.8" r="5.1" fill="#7f40bc"/>
</g>
<g id="row4">
<circle cx="852.6" cy="351.0" r="5.1" fill="#7945c0"/><circle cx="810.2" cy="355.5" r="5.1" fill="#007eea"/><circle cx="830.6" cy="360.0" r="5.1" fill="#7c42be"/><circle cx="854.1" cy="360.0" r="5.1" fill="#ec016d"/><circle cx="844.3" cy="373.5" r="5.1" fill="#8f2cab"/><circle cx="854.1" cy="357.7" r="5.1" fill="#c7018e"/><circle cx="826.7" cy="355.5" r="5.1" fill="#007be9"/><circle cx="855.4" cy="353.3" r="5.1" fill="#be0194"/><circle cx="836.2" cy="357.7" r="5.1" fill="#0079e9"/><circle cx="856.6" cy="348.8" r="5.1" fill="#f80154"/><circle cx="863.2" cy="355.5" r="5.1" fill="#dd017c"/><circle cx="809.2" cy="357.7" r="5.1" fill="#0084ec"/><circle cx="829.8" cy="346.5" r="5.1" fill="#7c42be"/><circle cx="846.0" cy="357.7" r="5.1" fill="#f00167"/><circle cx="847.6" cy="353.3" r="5.1" fill="#f00167"/><circle cx="819.7" cy="351.0" r="5.1" fill="#0071e5"/><circle cx="825.6" cy="353.3" r="5.1" fill="#0079e9"/><circle cx="836.7" cy="351.0" r="5.1" fill="#8935b3"/><circle cx="859.1" cy="353.3" r="5.1" fill="#db017e"/><circle cx="807.6" cy="353.3" r="5.1" fill="#007deb"/><circle cx="829.1" cy="353.3" r="5.1" fill="#8935b3"/><circle cx="826.9" cy="353.3" r="5.1" fill="#007feb"/><circle cx="861.8" cy="351.0" r="5.1" fill="#f7015a"/><circle cx="835.9" cy="360.0" r="5.1" fill="#007be9"/><circle cx="822.1" cy="355.5" r="5.1" fill="#0084ec"/><circle cx="861.9" cy="353.3" r="5.1" fill="#f10164"/><circle cx="834.5" cy="364.5" r="5.1" fill="#007be9"/><circle cx="830.5" cy="362.2" r="5.1" fill="#007feb"/><circle cx="848.5" cy="362.2" r="5.1" fill="#f5015e"/><circle cx="851.0" cy="353.3" r="5.1" fill="#f5015e"/><circle cx="817.4" cy="355.5" r="5.1" fill="#007feb"/><circle cx="840.7" cy="353.3" r="5.1" fill="#f40160"/><circle cx="815.5" cy="355.5" r="5.1" fill="#007bea"/><circle cx="849.0" cy="342.0" r="5.1" fill="#f80158"/><circle cx="830.0" cy="357.7" r="5.1" fill="#7f40bc"/><circle cx="826.8" cy="360.0" r="5.1" fill="#6a4fca"/><circle cx="865.4" cy="353.3" r="5.1" fill="#f7015a"/><circle cx="830.8" cy="353.3" r="5.1" fill="#7c42be"/><circle cx="834.0" cy="346.5" r="5.1" fill="#007deb"/><circle cx="833.4" cy="357.7" r="5.1" fill="#a317a0"/><circle cx="849.6" cy="342.0" r="5.1" fill="#f80154"/><circle cx="835.7" cy="366.7" r="5.1" fill="#0075e6"/><circle cx="843.3" cy="344.3" r="5.1" fill="#f10164"/><circle cx="828.9" cy="348.8" r="5.1" fill="#0073e5"/><circle cx="823.6" cy="353.3" r="5.1" fill="#7747c2"/><circle cx="801.3" cy="353.3" r="5.1" fill="#007eea"/><circle cx="851.9" cy="355.5" r="5.1" fill="#7945c0"/><circle cx="839.9" cy="344.3" r="5.1" fill="#7349c4"/><circle cx="853.0" cy="366.7" r="5.1" fill="#9128a9"/><circle cx="857.3" cy="362.2" r="5.1" fill="#b2019a"/><circle cx="818.0" cy="351.0" r="5.1" fill="#0084ec"/><circle cx="850.0" cy="360.0" r="5.1" fill="#f80158"/><circle cx="841.3" cy="369.0" r="5.1" fill="#f80156"/><circle cx="861.9" cy="360.0" r="5.1" fill="#f80156"/><circle cx="831.6" cy="351.0" r="5.1" fill="#0078e8"/><circle cx="812.3" cy="353.3" r="5.1" fill="#007eea"/><circle cx="841.8" cy="357.7" r="5.1" fill="#f7015a"/><circle cx="847.1" cy="364.5" r="5.1" fill="#8737b5"/><circle cx="838.1" cy="360.0" r="5.1" fill="#7945c0"/><circle cx="852.1" cy="355.5" r="5.1" fill="#ef0169"/><circle cx="854.0" cy="351.0" r="5.1" fill="#f90151"/><circle cx="857.5" cy="360.0" r="5.1" fill="#e20178"/><circle cx="837.5" cy="351.0" r="5.1" fill="#7c42be"/><circle cx="802.7" cy="353.3" r="5.1" fill="#007feb"/><circle cx="820.5" cy="353.3" r="5.1" fill="#823db9"/><circle cx="836.7" cy="346.5" r="5.1" fill="#5f56cf"/><circle cx="836.9" cy="364.5" r="5.1" fill="#6751cc"/><circle cx="825.7" cy="357.7" r="5.1" fill="#6d4dc8"/><circle cx="833.6" cy="360.0" r="5.1" fill="#0075e6"/><circle cx="861.5" cy="355.5" r="5.1" fill="#c30191"/><circle cx="841.5" cy="355.5" r="5.1" fill="#f90151"/><circle cx="834.9" cy="362.2" r="5.1" fill="#1768de"/><circle cx="819.5" cy="355.5" r="5.1" fill="#843ab7"/><circle cx="857.5" cy="346.5" r="5.1" fill="#f30162"/><circle cx="853.7" cy="364.5" r="5.1" fill="#f40160"/><circle cx="805.6" cy="353.3" r="5.1" fill="#0081eb"/><circle cx="846.4" cy="353.3" r="5.1" fill="#f9014f"/><circle cx="866.7" cy="355.5" r="5.1" fill="#e70172"/><circle cx="857.9" cy="351.0" r="5.1" fill="#e70172"/><circle cx="860.1" cy="351.0" r="5.1" fill="#d70181"/><circle cx="846.2" cy="362.2" r="5.1" fill="#f80156"/><circle cx="839.6" cy="362.2" r="5.1" fill="#8c32b1"/><circle cx="844.0" cy="351.0" r="5.1" fill="#f80156"/><circle cx="842.9" cy="351.0" r="5.1" fill="#f7015a"/><circle cx="841.4" cy="339.8" r="5.1" fill="#c30191"/><circle cx="833.0" cy="362.2" r="5.1" fill="#007be9"/><circle cx="828.5" cy="362.2" r="5.1" fill="#0076e7"/><circle cx="844.5" cy="346.5" r="5.1" fill="#b50199"/><circle cx="834.8" cy="346.5" r="5.1" fill="#0071e5"/><circle cx="857.7" cy="353.3" r="5.1" fill="#f40160"/><circle cx="832.6" cy="344.3" r="5.1" fill="#7f40bc"/><circle cx="855.0" cy="366.7" r="5.1" fill="#f5015e"/><circle cx="821.2" cy="348.8" r="5.1" fill="#0075e6"/><circle cx="848.3" cy="366.7" r="5.1" fill="#9128a9"/><circle cx="850.9" cy="362.2" r="5.1" fill="#e50174"/><circle cx="822.5" cy="351.0" r="5.1" fill="#7945c0"/><circle cx="808.5" cy="353.3" r="5.1" fill="#007deb"/><circle cx="843.4" cy="348.8" r="5.1" fill="#f9014f"/><circle cx="833.3" cy="348.8" r="5.1" fill="#6d4dc8"/><circle cx="864.8" cy="357.7" r="5.1" fill="#ec016d"/><circle cx="855.9" cy="351.0" r="5.1" fill="#b50199"/><circle cx="849.5" cy="353.3" r="5.1" fill="#d30185"/><circle cx="834.9" cy="344.3" r="5.1" fill="#6a4fca"/><circle cx="841.0" cy="351.0" r="5.1" fill="#7f40bc"/><circle cx="843.9" cy="342.0" r="5.1" fill="#c50190"/><circle cx="855.6" cy="357.7" r="5.1" fill="#f40160"/><circle cx="864.2" cy="355.5" r="5.1" fill="#f10164"/><circle cx="857.0" cy="357.7" r="5.1" fill="#c30191"/><circle cx="838.8" cy="360.0" r="5.1" fill="#007be9"/><circle cx="843.4" cy="366.7" r="5.1" fill="#e50174"/><circle cx="838.7" cy="366.7" r="5.1" fill="#704bc6"/><circle cx="831.5" cy="360.0" r="5.1" fill="#535bd4"/><circle cx="845.4" cy="355.5" r="5.1" fill="#8737b5"/><circle cx="835.2" cy="355.5" r="5.1" fill="#007feb"/><circle cx="830.3" cy="355.5" r="5.1" fill="#7c42be"/><circle cx="830.9" cy="348.8" r="5.1" fill="#7349c4"/><circle cx="844.2" cy="364.5" r="5.1" fill="#b50199"/><circle cx="831.1" cy="353.3" r="5.1" fill="#4e5dd6"/><circle cx="860.6" cy="348.8" r="5.1" fill="#704bc6"/><circle cx="845.8" cy="364.5" r="5.1" fill="#e90170"/><circle cx="826.2" cy="355.5" r="5.1" fill="#6751cc"/><circle cx="843.4" cy="360.0" r="5.1" fill="#991fa4"/><circle cx="847.5" cy="339.8" r="5.1" fill="#8737b5"/><circle cx="831.7" cy="362.2" r="5.1" fill="#7c42be"/><circle cx="829.4" cy="351.0" r="5.1" fill="#0078e8"/><circle cx="819.4" cy="360.0" r="5.1" fill="#7945c0"/><circle cx="858.8" cy="357.7" r="5.1" fill="#7945c0"/><circle cx="842.9" cy="353.3" r="5.1" fill="#d50183"/><circle cx="860.4" cy="355.5" r="5.1" fill="#d90180"/><circle cx="846.2" cy="348.8" r="5.1" fill="#ef0169"/><circle cx="819.6" cy="357.7" r="5.1" fill="#007bea"/><circle cx="810.4" cy="351.0" r="5.1" fill="#007be9"/><circle cx="826.3" cy="351.0" r="5.1" fill="#6a4fca"/><circle cx="861.3" cy="357.7" r="5.1" fill="#f30162"/><circle cx="822.8" cy="357.7" r="5.1" fill="#3d62da"/><circle cx="840.6" cy="366.7" r="5.1" fill="#f80156"/><circle cx="822.5" cy="353.3" r="5.1" fill="#0079e9"/><circle cx="814.2" cy="353.3" r="5.1" fill="#007eea"/><circle cx="836.0" cy="348.8" r="5.1" fill="#8935b3"/><circle cx="847.5" cy="355.5" r="5.1" fill="#f5015e"/><circle cx="836.3" cy="362.2" r="5.1" fill="#7f40bc"/><circle cx="850.1" cy="364.5" r="5.1" fill="#f40160"/><circle cx="843.3" cy="355.5" r="5.1" fill="#f9014f"/><circle cx="852.0" cy="348.8" r="5.1" fill="#cc018b"/><circle cx="804.9" cy="355.5" r="5.1" fill="#007deb"/><circle cx="838.7" cy="355.5" r="5.1" fill="#3d62da"/><circle cx="850.5" cy="355.5" r="5.1" fill="#d10187"/><circle cx="846.0" cy="351.0" r="5.1" fill="#e70172"/><circle cx="860.6" cy="353.3" r="5.1" fill="#f7015a"/><circle cx="807.5" cy="357.7" r="5.1" fill="#007bea"/><circle cx="852.5" cy="346.5" r="5.1" fill="#af059c"/><circle cx="859.3" cy="351.0" r="5.1" fill="#c00192"/><circle cx="807.9" cy="355.5" r="5.1" fill="#007deb"/><circle cx="839.3" cy="351.0" r="5.1" fill="#704bc6"/><circle cx="833.2" cy="355.5" r="5.1" fill="#007be9"/><circle cx="818.3" cy="357.7" r="5.1" fill="#8c32b1"/><circle cx="814.3" cy="357.7" r="5.1" fill="#0079e9"/><circle cx="852.0" cy="344.3" r="5.1" fill="#e40176"/><circle cx="855.4" cy="360.0" r="5.1" fill="#f9014f"/><circle cx="826.3" cy="360.0" r="5.1" fill="#0075e6"/><circle cx="858.9" cy="360.0" r="5.1" fill="#f30162"/><circle cx="868.0" cy="355.5" r="5.1" fill="#f00167"/><circle cx="831.5" cy="355.5" r="5.1" fill="#6d4dc8"/><circle cx="827.6" cy="351.0" r="5.1" fill="#2d65dd"/><circle cx="838.8" cy="346.5" r="5.1" fill="#0071e4"/><circle cx="834.6" cy="348.8" r="5.1" fill="#007eea"/><circle cx="818.5" cy="353.3" r="5.1" fill="#007be9"/><circle cx="830.5" cy="351.0" r="5.1" fill="#6d4dc8"/><circle cx="831.9" cy="357.7" r="5.1" fill="#6a4fca"/><circle cx="838.0" cy="355.5" r="5.1" fill="#7f40bc"/><circle cx="834.1" cy="353.3" r="5.1" fill="#0078e8"/><circle cx="824.4" cy="357.7" r="5.1" fill="#006ae0"/><circle cx="817.0" cy="353.3" r="5.1" fill="#007feb"/><circle cx="838.5" cy="369.0" r="5.1" fill="#6d4dc8"/><circle cx="853.0" cy="357.7" r="5.1" fill="#d50183"/><circle cx="829.2" cy="357.7" r="5.1" fill="#6d4dc8"/><circle cx="856.4" cy="355.5" r="5.1" fill="#f80158"/><circle cx="838.5" cy="348.8" r="5.1" fill="#7c42be"/><circle cx="844.1" cy="362.2" r="5.1" fill="#c9018c"/><circle cx="847.6" cy="364.5" r="5.1" fill="#c30191"/><circle cx="845.2" cy="353.3" r="5.1" fill="#d10187"/><circle cx="823.1" cy="348.8" r="5.1" fill="#007bea"/><circle cx="831.1" cy="348.8" r="5.1" fill="#0078e8"/><circle cx="850.3" cy="351.0" r="5.1" fill="#f9014f"/><circle cx="852.8" cy="353.3" r="5.1" fill="#b80197"/><circle cx="825.1" cy="348.8" r="5.1" fill="#8737b5"/><circle cx="818.1" cy="360.0" r="5.1" fill="#8935b3"/><circle cx="865.8" cy="357.7" r="5.1" fill="#f5015e"/><circle cx="849.2" cy="369.0" r="5.1" fill="#f5015e"/><circle cx="823.8" cy="351.0" r="5.1" fill="#0073e5"/><circle cx="845.0" cy="360.0" r="5.1" fill="#f00167"/><circle cx="854.1" cy="348.8" r="5.1" fill="#d10187"/><circle cx="844.3" cy="357.7" r="5.1" fill="#f7015a"/><circle cx="828.1" cy="346.5" r="5.1" fill="#0071e5"/><circle cx="849.7" cy="346.5" r="5.1" fill="#dd017c"/><circle cx="841.9" cy="360.0" r="5.1" fill="#f7015a"/><circle cx="826.8" cy="348.8" r="5.1" fill="#8f2cab"/><circle cx="844.3" cy="337.5" r="5.1" fill="#f40160"/><circle cx="804.1" cy="353.3" r="5.1" fill="#007feb"/><circle cx="837.3" cy="357.7" r="5.1" fill="#0071e5"/><circle cx="849.3" cy="357.7" r="5.1" fill="#9128a9"/><circle cx="827.4" cy="362.2" r="5.1" fill="#4260d8"/><circle cx="836.6" cy="353.3" r="5.1" fill="#7945c0"/><circle cx="843.7" cy="371.2" r="5.1" fill="#ce0189"/><circle cx="840.2" cy="357.7" r="5.1" fill="#9c1da3"/><circle cx="816.5" cy="357.7" r="5.1" fill="#007eea"/><circle cx="839.9" cy="364.5" r="5.1" fill="#6d4dc8"/><circle cx="843.5" cy="369.0" r="5.1" fill="#ea016f"/><circle cx="841.0" cy="364.5" r="5.1" fill="#f6015c"/><circle cx="854.1" cy="362.2" r="5.1" fill="#e20178"/><circle cx="849.2" cy="348.8" r="5.1" fill="#b2019a"/><circle cx="834.8" cy="357.7" r="5.1" fill="#704bc6"/><circle cx="832.6" cy="364.5" r="5.1" fill="#007eea"/><circle cx="803.2" cy="355.5" r="5.1" fill="#007be9"/><circle cx="842.4" cy="348.8" r="5.1" fill="#9128a9"/><circle cx="847.4" cy="360.0" r="5.1" fill="#f10164"/><circle cx="839.0" cy="342.0" r="5.1" fill="#704bc6"/><circle cx="849.2" cy="344.3" r="5.1" fill="#ed016b"/><circle cx="849.8" cy="366.7" r="5.1" fill="#ec016d"/><circle cx="832.5" cy="353.3" r="5.1" fill="#7349c4"/><circle cx="838.7" cy="357.7" r="5.1" fill="#7c42be"/><circle cx="850.8" cy="351.0" r="5.1" fill="#f80154"/><circle cx="824.4" cy="355.5" r="5.1" fill="#007be9"/><circle cx="838.6" cy="353.3" r="5.1" fill="#0073e5"/><circle cx="828.3" cy="355.5" r="5.1" fill="#006ce1"/><circle cx="829.3" cy="360.0" r="5.1" fill="#7747c2"/><circle cx="863.6" cy="353.3" r="5.1" fill="#f00167"/><circle cx="840.5" cy="342.0" r="5.1" fill="#bb0196"/><circle cx="840.5" cy="348.8" r="5.1" fill="#9c1da3"/><circle cx="845.8" cy="357.7" r="5.1" fill="#ed016b"/><circle cx="841.1" cy="360.0" r="5.1" fill="#f80154"/><circle cx="827.1" cy="357.7" r="5.1" fill="#006fe3"/><circle cx="812.4" cy="355.5" r="5.1" fill="#007bea"/><circle cx="860.1" cy="357.7" r="5.1" fill="#dd017c"/><circle cx="851.8" cy="357.7" r="5.1" fill="#d70181"/><circle cx="843.2" cy="339.8" r="5.1" fill="#9622a5"/><circle cx="837.0" cy="344.3" r="5.1" fill="#7349c4"/><circle cx="850.8" cy="364.5" r="5.1" fill="#8935b3"/><circle cx="839.3" cy="348.8" r="5.1" fill="#5659d2"/><circle cx="847.9" cy="357.7" r="5.1" fill="#a6139f"/><circle cx="811.0" cy="353.3" r="5.1" fill="#0081eb"/><circle cx="841.2" cy="346.5" r="5.1" fill="#f6015c"/><circle cx="851.6" cy="360.0" r="5.1" fill="#f00167"/><circle cx="823.4" cy="360.0" r="5.1" fill="#6751cc"/><circle cx="804.5" cy="357.7" r="5.1" fill="#007eea"/><circle cx="848.1" cy="371.2" r="5.1" fill="#e0017a"/><circle cx="854.6" cy="355.5" r="5.1" fill="#f9014f"/><circle cx="821.2" cy="357.7" r="5.1" fill="#9324a7"/><circle cx="848.5" cy="355.5" r="5.1" fill="#ea016f"/><circle cx="860.3" cy="360.0" r="5.1" fill="#f6015c"/><circle cx="821.4" cy="360.0" r="5.1" fill="#8935b3"/><circle cx="845.8" cy="348.8" r="5.1" fill="#b50199"/><circle cx="857.8" cy="355.5" r="5.1" fill="#c7018e"/><circle cx="858.0" cy="355.5" r="5.1" fill="#f10164"/><circle cx="854.1" cy="353.3" r="5.1" fill="#9128a9"/><circle cx="815.0" cy="353.3" r="5.1" fill="#007bea"/><circle cx="848.0" cy="351.0" r="5.1" fill="#d30185"/><circle cx="838.2" cy="353.3" r="5.1" fill="#4260d8"/><circle cx="845.7" cy="362.2" r="5.1" fill="#9c1da3"/><circle cx="863.3" cy="357.7" r="5.1" fill="#ea016f"/><circle cx="840.1" cy="362.2" r="5.1" fill="#a90f9e"/><circle cx="844.8" cy="346.5" r="5.1" fill="#e90170"/><circle cx="821.8" cy="351.0" r="5.1" fill="#6d4dc8"/><circle cx="845.4" cy="351.0" r="5.1" fill="#7945c0"/><circle cx="852.8" cy="364.5" r="5.1" fill="#d90180"/><circle cx="853.0" cy="360.0" r="5.1" fill="#a6139f"/><circle cx="848.7" cy="360.0" r="5.1" fill="#d50183"/><circle cx="812.9" cy="357.7" r="5.1" fill="#007feb"/><circle cx="820.7" cy="355.5" r="5.1" fill="#0079e9"/><circle cx="806.4" cy="355.5" r="5.1" fill="#007bea"/><circle cx="802.2" cy="357.7" r="5.1" fill="#007eea"/><circle cx="841.9" cy="362.2" r="5.1" fill="#f80156"/><circle cx="835.2" cy="351.0" r="5.1" fill="#843ab7"/><circle cx="833.9" cy="351.0" r="5.1" fill="#2467de"/><circle cx="847.8" cy="369.0" r="5.1" fill="#ec016d"/><circle cx="809.0" cy="355.5" r="5.1" fill="#007eea"/><circle cx="842.1" cy="355.5" r="5.1" fill="#7349c4"/><circle cx="801.1" cy="355.5" r="5.1" fill="#007eea"/><circle cx="813.8" cy="355.5" r="5.1" fill="#007feb"/><circle cx="847.5" cy="346.5" r="5.1" fill="#8c32b1"/><circle cx="848.8" cy="344.3" r="5.1" fill="#c9018c"/><circle cx="852.8" cy="362.2" r="5.1" fill="#8f2cab"/><circle cx="840.7" cy="344.3" r="5.1" fill="#f7015a"/><circle cx="844.1" cy="353.3" r="5.1" fill="#9c1da3"/><circle cx="836.6" cy="355.5" r="5.1" fill="#843ab7"/><circle cx="865.9" cy="353.3" r="5.1" fill="#db017e"/><circle cx="810.4" cy="357.7" r="5.1" fill="#007deb"/><circle cx="825.4" cy="362.2" r="5.1" fill="#5b57d1"/><circle cx="835.0" cy="360.0" r="5.1" fill="#0076e7"/><circle cx="848.6" cy="346.5" r="5.1" fill="#c50190"/><circle cx="820.5" cy="353.3" r="5.1" fill="#0073e5"/><circle cx="855.0" cy="346.5" r="5.1" fill="#b50199"/><circle cx="848.9" cy="348.8" r="5.1" fill="#f9014f"/><circle cx="852.8" cy="348.8" r="5.1" fill="#c7018e"/><circle cx="803.8" cy="357.7" r="5.1" fill="#007bea"/><circle cx="805.8" cy="357.7" r="5.1" fill="#007eea"/><circle cx="849.2" cy="362.2" r="5.1" fill="#f7015a"/><circle cx="814.9" cy="357.7" r="5.1" fill="#0079e9"/><circle cx="818.3" cy="355.5" r="5.1" fill="#0078e8"/><circle cx="733.0" cy="355.5" r="5.1" fill="#007eea"/><circle cx="758.0" cy="355.5" r="5.1" fill="#0082eb"/><circle cx="769.7" cy="355.5" r="5.1" fill="#007bea"/><circle cx="787.0" cy="356.0" r="5.1" fill="#007bea"/><circle cx="797.0" cy="354.0" r="5.1" fill="#007deb"/><circle cx="800.0" cy="357.0" r="5.1" fill="#007deb"/><circle cx="805.0" cy="355.0" r="5.1" fill="#007eea"/><circle cx="809.0" cy="348.0" r="5.1" fill="#007deb"/><circle cx="809.0" cy="362.0" r="5.1" fill="#007eea"/><circle cx="811.0" cy="355.0" r="5.1" fill="#007eea"/><circle cx="815.0" cy="353.0" r="5.1" fill="#007eea"/><circle cx="819.0" cy="348.0" r="5.1" fill="#007eea"/><circle cx="818.0" cy="358.0" r="5.1" fill="#007eea"/><circle cx="819.0" cy="362.0" r="5.1" fill="#007bea"/><circle cx="823.0" cy="355.0" r="5.1" fill="#007eea"/><circle cx="822.0" cy="350.0" r="5.1" fill="#3d62da"/><circle cx="828.0" cy="343.0" r="5.1" fill="#006ce1"/><circle cx="831.0" cy="342.0" r="5.1" fill="#0076e7"/><circle cx="825.0" cy="347.0" r="5.1" fill="#4e5dd6"/><circle cx="832.0" cy="363.0" r="5.1" fill="#0075e6"/><circle cx="824.0" cy="360.5" r="5.1" fill="#0075e6"/><circle cx="828.0" cy="353.0" r="5.1" fill="#7945c0"/><circle cx="827.0" cy="360.0" r="5.1" fill="#6d4dc8"/><circle cx="829.0" cy="366.0" r="5.1" fill="#704bc6"/><circle cx="837.0" cy="336.0" r="5.1" fill="#6d4dc8"/><circle cx="835.0" cy="340.0" r="5.1" fill="#5f56cf"/><circle cx="837.0" cy="347.0" r="5.1" fill="#7349c4"/><circle cx="835.0" cy="353.0" r="5.1" fill="#6d4dc8"/><circle cx="841.0" cy="350.0" r="5.1" fill="#7747c2"/><circle cx="838.0" cy="363.0" r="5.1" fill="#a90f9e"/><circle cx="839.0" cy="370.0" r="5.1" fill="#991fa4"/><circle cx="841.0" cy="376.0" r="5.1" fill="#9324a7"/><circle cx="845.0" cy="329.0" r="5.1" fill="#8c32b1"/><circle cx="844.0" cy="338.0" r="5.1" fill="#ea016f"/><circle cx="850.0" cy="336.0" r="5.1" fill="#f10164"/><circle cx="847.0" cy="343.0" r="5.1" fill="#f80156"/><circle cx="854.0" cy="342.0" r="5.1" fill="#f10164"/><circle cx="849.0" cy="349.0" r="5.1" fill="#f30162"/><circle cx="857.0" cy="347.0" r="5.1" fill="#d70181"/><circle cx="850.0" cy="355.0" r="5.1" fill="#b80197"/><circle cx="857.0" cy="354.0" r="5.1" fill="#b50199"/><circle cx="863.0" cy="352.0" r="5.1" fill="#9128a9"/><circle cx="861.0" cy="358.0" r="5.1" fill="#ea016f"/><circle cx="845.0" cy="364.0" r="5.1" fill="#823db9"/><circle cx="851.0" cy="364.0" r="5.1" fill="#f7015a"/><circle cx="849.0" cy="370.0" r="5.1" fill="#f40160"/><circle cx="857.0" cy="365.0" r="5.1" fill="#8c32b1"/><circle cx="855.0" cy="360.0" r="5.1" fill="#f30162"/><circle cx="845.0" cy="376.0" r="5.1" fill="#bb0196"/><circle cx="847.0" cy="380.0" r="5.1" fill="#d30185"/><circle cx="844.0" cy="383.0" r="5.1" fill="#e20178"/><circle cx="851.0" cy="374.0" r="5.1" fill="#ea016f"/><circle cx="868.0" cy="355.0" r="5.1" fill="#d10187"/><circle cx="872.0" cy="354.0" r="5.1" fill="#d50183"/><circle cx="875.0" cy="359.0" r="5.1" fill="#ec016d"/><circle cx="877.0" cy="355.0" r="5.1" fill="#f10164"/><circle cx="834.0" cy="358.5" r="5.1" fill="#7349c4"/><circle cx="843.0" cy="357.5" r="5.1" fill="#8e2fae"/>
</g>
<g id="row5">
<circle cx="835.3" cy="442.3" r="5.1" fill="#006fe3"/><circle cx="828.2" cy="440.1" r="5.1" fill="#c30191"/><circle cx="834.5" cy="437.8" r="5.1" fill="#007eea"/><circle cx="815.1" cy="437.8" r="5.1" fill="#007eea"/><circle cx="840.1" cy="426.6" r="5.1" fill="#ed016b"/><circle cx="839.5" cy="435.6" r="5.1" fill="#4260d8"/><circle cx="833.6" cy="422.1" r="5.1" fill="#f6015c"/><circle cx="834.1" cy="426.6" r="5.1" fill="#9c1da3"/><circle cx="841.3" cy="435.6" r="5.1" fill="#6751cc"/><circle cx="833.7" cy="435.6" r="5.1" fill="#dd017c"/><circle cx="824.1" cy="431.1" r="5.1" fill="#0084ec"/><circle cx="836.1" cy="417.6" r="5.1" fill="#f40160"/><circle cx="842.3" cy="428.9" r="5.1" fill="#7f40bc"/><circle cx="832.2" cy="426.6" r="5.1" fill="#ec016d"/><circle cx="837.3" cy="440.1" r="5.1" fill="#e50174"/><circle cx="841.4" cy="437.8" r="5.1" fill="#9324a7"/><circle cx="832.2" cy="437.8" r="5.1" fill="#a90f9e"/><circle cx="831.6" cy="431.1" r="5.1" fill="#0082eb"/><circle cx="815.1" cy="435.6" r="5.1" fill="#0076e7"/><circle cx="817.7" cy="435.6" r="5.1" fill="#0082eb"/><circle cx="842.7" cy="440.1" r="5.1" fill="#8737b5"/><circle cx="820.1" cy="435.6" r="5.1" fill="#007feb"/><circle cx="841.0" cy="444.6" r="5.1" fill="#e40176"/><circle cx="830.0" cy="428.9" r="5.1" fill="#d50183"/><circle cx="839.6" cy="433.4" r="5.1" fill="#8935b3"/><circle cx="833.1" cy="433.4" r="5.1" fill="#ea016f"/><circle cx="828.9" cy="437.8" r="5.1" fill="#006ae0"/><circle cx="835.9" cy="444.6" r="5.1" fill="#e90170"/><circle cx="835.0" cy="449.1" r="5.1" fill="#a01aa2"/><circle cx="840.6" cy="435.6" r="5.1" fill="#b80197"/><circle cx="824.4" cy="431.1" r="5.1" fill="#0076e7"/><circle cx="831.9" cy="440.1" r="5.1" fill="#0082eb"/><circle cx="844.9" cy="435.6" r="5.1" fill="#b80197"/><circle cx="843.6" cy="437.8" r="5.1" fill="#843ab7"/><circle cx="835.5" cy="433.4" r="5.1" fill="#0075e6"/><circle cx="814.8" cy="433.4" r="5.1" fill="#007deb"/><circle cx="844.1" cy="433.4" r="5.1" fill="#535bd4"/><circle cx="822.6" cy="437.8" r="5.1" fill="#0082eb"/><circle cx="842.6" cy="431.1" r="5.1" fill="#e40176"/><circle cx="841.6" cy="444.6" r="5.1" fill="#f6015c"/><circle cx="839.0" cy="446.8" r="5.1" fill="#f30162"/><circle cx="830.0" cy="435.6" r="5.1" fill="#006fe3"/><circle cx="839.6" cy="442.3" r="5.1" fill="#4e5dd6"/><circle cx="837.1" cy="428.9" r="5.1" fill="#8e2fae"/><circle cx="818.8" cy="431.1" r="5.1" fill="#007deb"/><circle cx="833.0" cy="437.8" r="5.1" fill="#0073e5"/><circle cx="838.6" cy="424.4" r="5.1" fill="#843ab7"/><circle cx="819.2" cy="440.1" r="5.1" fill="#007bea"/><circle cx="832.3" cy="431.1" r="5.1" fill="#3664db"/><circle cx="839.3" cy="431.1" r="5.1" fill="#c9018c"/><circle cx="832.7" cy="442.3" r="5.1" fill="#0081eb"/><circle cx="837.7" cy="428.9" r="5.1" fill="#d50183"/><circle cx="838.8" cy="424.4" r="5.1" fill="#f40160"/><circle cx="844.0" cy="428.9" r="5.1" fill="#535bd4"/><circle cx="838.2" cy="442.3" r="5.1" fill="#6d4dc8"/><circle cx="823.4" cy="433.4" r="5.1" fill="#007deb"/><circle cx="828.1" cy="433.4" r="5.1" fill="#dd017c"/><circle cx="823.8" cy="435.6" r="5.1" fill="#007bea"/><circle cx="834.1" cy="440.1" r="5.1" fill="#f10164"/><circle cx="830.2" cy="442.3" r="5.1" fill="#0075e6"/><circle cx="838.6" cy="435.6" r="5.1" fill="#5b57d1"/><circle cx="833.1" cy="435.6" r="5.1" fill="#d70181"/><circle cx="824.2" cy="440.1" r="5.1" fill="#7945c0"/><circle cx="826.6" cy="435.6" r="5.1" fill="#dd017c"/><circle cx="834.5" cy="446.8" r="5.1" fill="#ef0169"/><circle cx="832.4" cy="444.6" r="5.1" fill="#f10164"/><circle cx="819.2" cy="437.8" r="5.1" fill="#007eea"/><circle cx="835.9" cy="446.8" r="5.1" fill="#f00167"/><circle cx="829.8" cy="433.4" r="5.1" fill="#0079e9"/><circle cx="821.1" cy="431.1" r="5.1" fill="#007deb"/><circle cx="819.6" cy="437.8" r="5.1" fill="#007be9"/><circle cx="832.5" cy="440.1" r="5.1" fill="#0081eb"/><circle cx="821.5" cy="440.1" r="5.1" fill="#007bea"/><circle cx="828.0" cy="437.8" r="5.1" fill="#5659d2"/><circle cx="837.7" cy="446.8" r="5.1" fill="#e40176"/><circle cx="818.0" cy="433.4" r="5.1" fill="#0076e7"/><circle cx="839.6" cy="444.6" r="5.1" fill="#af059c"/><circle cx="828.3" cy="431.1" r="5.1" fill="#3664db"/><circle cx="829.2" cy="440.1" r="5.1" fill="#ce0189"/><circle cx="842.9" cy="431.1" r="5.1" fill="#e40176"/><circle cx="838.8" cy="428.9" r="5.1" fill="#f9014f"/><circle cx="840.5" cy="442.3" r="5.1" fill="#cc018b"/><circle cx="831.8" cy="428.9" r="5.1" fill="#cc018b"/><circle cx="822.1" cy="433.4" r="5.1" fill="#007eea"/><circle cx="834.8" cy="451.3" r="5.1" fill="#ec016d"/><circle cx="834.0" cy="433.4" r="5.1" fill="#0076e7"/><circle cx="835.5" cy="435.6" r="5.1" fill="#d70181"/><circle cx="835.4" cy="437.8" r="5.1" fill="#0075e6"/><circle cx="840.3" cy="440.1" r="5.1" fill="#8737b5"/><circle cx="836.2" cy="444.6" r="5.1" fill="#ec016d"/><circle cx="841.6" cy="440.1" r="5.1" fill="#db017e"/><circle cx="843.8" cy="433.4" r="5.1" fill="#e90170"/><circle cx="825.0" cy="440.1" r="5.1" fill="#0075e6"/><circle cx="824.4" cy="435.6" r="5.1" fill="#007deb"/><circle cx="843.9" cy="442.3" r="5.1" fill="#c9018c"/><circle cx="842.6" cy="426.6" r="5.1" fill="#843ab7"/><circle cx="842.8" cy="428.9" r="5.1" fill="#dd017c"/><circle cx="827.3" cy="435.6" r="5.1" fill="#0076e7"/><circle cx="829.9" cy="426.6" r="5.1" fill="#e50174"/><circle cx="838.2" cy="431.1" r="5.1" fill="#b80197"/><circle cx="815.7" cy="437.8" r="5.1" fill="#007eea"/><circle cx="837.5" cy="440.1" r="5.1" fill="#8e2fae"/><circle cx="839.6" cy="426.6" r="5.1" fill="#ed016b"/><circle cx="837.2" cy="431.1" r="5.1" fill="#9324a7"/><circle cx="840.3" cy="424.4" r="5.1" fill="#ec016d"/><circle cx="841.1" cy="446.8" r="5.1" fill="#f00167"/><circle cx="834.7" cy="431.1" r="5.1" fill="#e20178"/><circle cx="835.7" cy="422.1" r="5.1" fill="#d70181"/><circle cx="816.2" cy="435.6" r="5.1" fill="#007bea"/><circle cx="841.3" cy="426.6" r="5.1" fill="#9622a5"/><circle cx="820.6" cy="433.4" r="5.1" fill="#0079e9"/><circle cx="835.1" cy="428.9" r="5.1" fill="#0071e5"/><circle cx="834.1" cy="449.1" r="5.1" fill="#8e2fae"/><circle cx="837.7" cy="426.6" r="5.1" fill="#ed016b"/><circle cx="844.6" cy="431.1" r="5.1" fill="#d70181"/><circle cx="834.7" cy="444.6" r="5.1" fill="#8f2cab"/><circle cx="830.1" cy="431.1" r="5.1" fill="#0073e5"/><circle cx="833.0" cy="446.8" r="5.1" fill="#e20178"/><circle cx="830.6" cy="437.8" r="5.1" fill="#c00192"/><circle cx="841.3" cy="437.8" r="5.1" fill="#bb0196"/><circle cx="842.5" cy="442.3" r="5.1" fill="#c7018e"/><circle cx="837.6" cy="444.6" r="5.1" fill="#7747c2"/><circle cx="844.9" cy="426.6" r="5.1" fill="#ed016b"/><circle cx="836.1" cy="433.4" r="5.1" fill="#8935b3"/><circle cx="836.7" cy="426.6" r="5.1" fill="#8e2fae"/><circle cx="806.3" cy="435.6" r="5.1" fill="#007feb"/><circle cx="812.1" cy="436.1" r="5.1" fill="#007bea"/><circle cx="834.5" cy="428.9" r="5.1" fill="#0078e8"/><circle cx="836.0" cy="424.4" r="5.1" fill="#f5015e"/><circle cx="833.7" cy="419.9" r="5.1" fill="#ef0169"/><circle cx="841.2" cy="431.1" r="5.1" fill="#a90f9e"/><circle cx="821.9" cy="435.6" r="5.1" fill="#0078e8"/><circle cx="831.2" cy="433.4" r="5.1" fill="#007feb"/><circle cx="839.2" cy="440.1" r="5.1" fill="#9128a9"/><circle cx="833.3" cy="424.4" r="5.1" fill="#f40160"/><circle cx="828.5" cy="431.1" r="5.1" fill="#007eea"/><circle cx="819.3" cy="433.4" r="5.1" fill="#007feb"/><circle cx="840.8" cy="428.9" r="5.1" fill="#d70181"/><circle cx="836.0" cy="419.9" r="5.1" fill="#8f2cab"/><circle cx="841.4" cy="433.4" r="5.1" fill="#7747c2"/><circle cx="825.4" cy="433.4" r="5.1" fill="#d30185"/><circle cx="834.8" cy="442.3" r="5.1" fill="#0082eb"/><circle cx="836.8" cy="442.3" r="5.1" fill="#e20178"/><circle cx="826.2" cy="437.8" r="5.1" fill="#0073e5"/><circle cx="828.4" cy="435.6" r="5.1" fill="#007eea"/><circle cx="838.0" cy="433.4" r="5.1" fill="#535bd4"/><circle cx="828.9" cy="433.4" r="5.1" fill="#ed016b"/><circle cx="832.5" cy="428.9" r="5.1" fill="#d50183"/><circle cx="831.2" cy="435.6" r="5.1" fill="#0078e8"/><circle cx="836.2" cy="437.8" r="5.1" fill="#cc018b"/><circle cx="835.1" cy="431.1" r="5.1" fill="#007be9"/><circle cx="833.1" cy="422.1" r="5.1" fill="#9622a5"/><circle cx="843.4" cy="435.6" r="5.1" fill="#f00167"/><circle cx="835.8" cy="440.1" r="5.1" fill="#0076e7"/><circle cx="816.1" cy="433.4" r="5.1" fill="#007deb"/><circle cx="837.9" cy="437.8" r="5.1" fill="#704bc6"/><circle cx="820.9" cy="435.6" r="5.1" fill="#0084ec"/><circle cx="818.2" cy="435.6" r="5.1" fill="#0078e8"/><circle cx="823.4" cy="437.8" r="5.1" fill="#007deb"/><circle cx="830.3" cy="440.1" r="5.1" fill="#0073e5"/><circle cx="836.6" cy="435.6" r="5.1" fill="#991fa4"/><circle cx="843.9" cy="442.3" r="5.1" fill="#6751cc"/><circle cx="833.6" cy="424.4" r="5.1" fill="#7747c2"/><circle cx="840.2" cy="433.4" r="5.1" fill="#6a4fca"/><circle cx="825.1" cy="437.8" r="5.1" fill="#007bea"/><circle cx="820.3" cy="431.1" r="5.1" fill="#007deb"/><circle cx="834.6" cy="451.3" r="5.1" fill="#db017e"/><circle cx="833.5" cy="449.1" r="5.1" fill="#f7015a"/><circle cx="839.3" cy="437.8" r="5.1" fill="#8935b3"/><circle cx="826.5" cy="433.4" r="5.1" fill="#0078e8"/><circle cx="834.8" cy="426.6" r="5.1" fill="#f6015c"/><circle cx="821.2" cy="437.8" r="5.1" fill="#007bea"/><circle cx="763.3" cy="435.6" r="5.1" fill="#007deb"/><circle cx="772.8" cy="435.6" r="5.1" fill="#0082eb"/><circle cx="798.5" cy="435.8" r="5.1" fill="#a90f9e"/><circle cx="800.3" cy="434.6" r="5.1" fill="#007bea"/><circle cx="807.0" cy="436.0" r="5.1" fill="#007be9"/><circle cx="812.0" cy="436.0" r="5.1" fill="#007bea"/><circle cx="817.0" cy="433.0" r="5.1" fill="#007deb"/><circle cx="818.0" cy="439.0" r="5.1" fill="#007deb"/><circle cx="822.0" cy="429.0" r="5.1" fill="#007deb"/><circle cx="823.0" cy="435.0" r="5.1" fill="#007eea"/><circle cx="823.0" cy="442.0" r="5.1" fill="#007deb"/><circle cx="826.0" cy="446.0" r="5.1" fill="#007deb"/><circle cx="825.0" cy="440.0" r="5.1" fill="#007eea"/><circle cx="829.0" cy="424.0" r="5.1" fill="#006ae0"/><circle cx="831.0" cy="418.0" r="5.1" fill="#c9018c"/><circle cx="837.0" cy="409.0" r="5.1" fill="#ec016d"/><circle cx="837.0" cy="414.0" r="5.1" fill="#d90180"/><circle cx="836.0" cy="417.0" r="5.1" fill="#8c32b1"/><circle cx="841.0" cy="419.0" r="5.1" fill="#ce0189"/><circle cx="838.0" cy="423.0" r="5.1" fill="#f30162"/><circle cx="844.0" cy="424.0" r="5.1" fill="#b80197"/><circle cx="841.0" cy="429.0" r="5.1" fill="#b2019a"/><circle cx="847.0" cy="429.0" r="5.1" fill="#a90f9e"/><circle cx="841.0" cy="435.0" r="5.1" fill="#a6139f"/><circle cx="849.0" cy="434.0" r="5.1" fill="#ac0b9d"/><circle cx="855.0" cy="435.0" r="5.1" fill="#a6139f"/><circle cx="859.8" cy="435.0" r="5.1" fill="#a317a0"/><circle cx="830.0" cy="440.0" r="5.1" fill="#8f2cab"/><circle cx="833.0" cy="443.0" r="5.1" fill="#8935b3"/><circle cx="845.0" cy="440.0" r="5.1" fill="#8e2fae"/><circle cx="848.0" cy="442.0" r="5.1" fill="#cc018b"/><circle cx="841.0" cy="445.0" r="5.1" fill="#7945c0"/><circle cx="830.0" cy="448.0" r="5.1" fill="#ac0b9d"/><circle cx="835.0" cy="451.0" r="5.1" fill="#5b57d1"/><circle cx="845.0" cy="448.0" r="5.1" fill="#cc018b"/><circle cx="841.0" cy="453.0" r="5.1" fill="#d30185"/><circle cx="834.0" cy="457.0" r="5.1" fill="#ea016f"/><circle cx="839.0" cy="459.0" r="5.1" fill="#ec016d"/><circle cx="836.0" cy="462.0" r="5.1" fill="#d30185"/><circle cx="837.0" cy="463.0" r="5.1" fill="#9324a7"/><circle cx="836.0" cy="433.6" r="5.1" fill="#a90f9e"/><circle cx="838.0" cy="439.6" r="5.1" fill="#9128a9"/><circle cx="827.0" cy="427.0" r="5.1" fill="#007bea"/><circle cx="829.0" cy="433.0" r="5.1" fill="#0078e8"/><circle cx="832.0" cy="429.0" r="5.1" fill="#0079e9"/>
</g>
<g id="row6">
<circle cx="847.8" cy="510.9" r="5.1" fill="#f30162"/><circle cx="848.8" cy="515.4" r="5.1" fill="#cc018b"/><circle cx="834.2" cy="506.4" r="5.1" fill="#4e5dd6"/><circle cx="846.8" cy="515.4" r="5.1" fill="#f00167"/><circle cx="830.5" cy="499.7" r="5.1" fill="#6a4fca"/><circle cx="837.1" cy="522.1" r="5.1" fill="#f7015a"/><circle cx="833.5" cy="524.4" r="5.1" fill="#007be9"/><circle cx="844.9" cy="508.7" r="5.1" fill="#dd017c"/><circle cx="844.0" cy="515.4" r="5.1" fill="#f5015e"/><circle cx="827.5" cy="519.9" r="5.1" fill="#0079e9"/><circle cx="836.1" cy="531.1" r="5.1" fill="#0073e5"/><circle cx="842.2" cy="508.7" r="5.1" fill="#dd017c"/><circle cx="842.6" cy="508.7" r="5.1" fill="#db017e"/><circle cx="830.0" cy="515.4" r="5.1" fill="#006ee2"/><circle cx="842.2" cy="519.9" r="5.1" fill="#f80156"/><circle cx="832.1" cy="522.1" r="5.1" fill="#a90f9e"/><circle cx="831.5" cy="526.6" r="5.1" fill="#007bea"/><circle cx="831.1" cy="501.9" r="5.1" fill="#5f56cf"/><circle cx="845.8" cy="515.4" r="5.1" fill="#d50183"/><circle cx="839.3" cy="513.2" r="5.1" fill="#e40176"/><circle cx="827.6" cy="524.4" r="5.1" fill="#b50199"/><circle cx="833.9" cy="519.9" r="5.1" fill="#9128a9"/><circle cx="836.7" cy="513.2" r="5.1" fill="#d50183"/><circle cx="830.8" cy="508.7" r="5.1" fill="#7349c4"/><circle cx="839.0" cy="515.4" r="5.1" fill="#e20178"/><circle cx="827.8" cy="526.6" r="5.1" fill="#0079e9"/><circle cx="834.7" cy="517.6" r="5.1" fill="#4260d8"/><circle cx="830.5" cy="517.6" r="5.1" fill="#007be9"/><circle cx="835.7" cy="515.4" r="5.1" fill="#6354cd"/><circle cx="839.2" cy="524.4" r="5.1" fill="#e70172"/><circle cx="832.5" cy="506.4" r="5.1" fill="#4e5dd6"/><circle cx="830.0" cy="504.2" r="5.1" fill="#2467de"/><circle cx="830.3" cy="510.9" r="5.1" fill="#006ee2"/><circle cx="852.5" cy="513.2" r="5.1" fill="#f80156"/><circle cx="829.5" cy="522.1" r="5.1" fill="#a90f9e"/><circle cx="840.9" cy="524.4" r="5.1" fill="#d70181"/><circle cx="842.5" cy="522.1" r="5.1" fill="#f80156"/><circle cx="837.0" cy="517.6" r="5.1" fill="#c50190"/><circle cx="833.7" cy="508.7" r="5.1" fill="#7747c2"/><circle cx="841.4" cy="522.1" r="5.1" fill="#f80158"/><circle cx="828.7" cy="513.2" r="5.1" fill="#843ab7"/><circle cx="843.2" cy="517.6" r="5.1" fill="#ec016d"/><circle cx="837.3" cy="504.2" r="5.1" fill="#f6015c"/><circle cx="841.5" cy="506.4" r="5.1" fill="#e90170"/><circle cx="833.4" cy="510.9" r="5.1" fill="#0084ec"/><circle cx="831.3" cy="506.4" r="5.1" fill="#2d65dd"/><circle cx="827.3" cy="510.9" r="5.1" fill="#5f56cf"/><circle cx="826.3" cy="513.2" r="5.1" fill="#0078e8"/><circle cx="847.1" cy="508.7" r="5.1" fill="#e40176"/><circle cx="844.6" cy="508.7" r="5.1" fill="#f5015e"/><circle cx="838.0" cy="526.6" r="5.1" fill="#f80158"/><circle cx="827.8" cy="501.9" r="5.1" fill="#3d62da"/><circle cx="831.4" cy="513.2" r="5.1" fill="#2d65dd"/><circle cx="839.9" cy="519.9" r="5.1" fill="#f80156"/><circle cx="837.9" cy="501.9" r="5.1" fill="#d10187"/><circle cx="840.8" cy="519.9" r="5.1" fill="#f6015c"/><circle cx="848.4" cy="522.1" r="5.1" fill="#f00167"/><circle cx="838.2" cy="517.6" r="5.1" fill="#f7015a"/><circle cx="836.7" cy="524.4" r="5.1" fill="#e40176"/><circle cx="834.9" cy="524.4" r="5.1" fill="#007be9"/><circle cx="830.1" cy="524.4" r="5.1" fill="#007be9"/><circle cx="832.0" cy="513.2" r="5.1" fill="#5659d2"/><circle cx="840.1" cy="506.4" r="5.1" fill="#f80156"/><circle cx="837.9" cy="504.2" r="5.1" fill="#f80158"/><circle cx="839.8" cy="526.6" r="5.1" fill="#e0017a"/><circle cx="833.1" cy="515.4" r="5.1" fill="#007feb"/><circle cx="841.1" cy="522.1" r="5.1" fill="#f5015e"/><circle cx="835.1" cy="508.7" r="5.1" fill="#7747c2"/><circle cx="847.1" cy="513.2" r="5.1" fill="#f6015c"/><circle cx="844.0" cy="517.6" r="5.1" fill="#c7018e"/><circle cx="847.8" cy="513.2" r="5.1" fill="#f80158"/><circle cx="851.7" cy="513.2" r="5.1" fill="#cc018b"/><circle cx="843.5" cy="506.4" r="5.1" fill="#f40160"/><circle cx="839.8" cy="508.7" r="5.1" fill="#f80156"/><circle cx="827.7" cy="528.9" r="5.1" fill="#0082eb"/><circle cx="840.4" cy="510.9" r="5.1" fill="#ed016b"/><circle cx="828.6" cy="522.1" r="5.1" fill="#0073e5"/><circle cx="830.6" cy="531.1" r="5.1" fill="#9324a7"/><circle cx="834.6" cy="504.2" r="5.1" fill="#2467de"/><circle cx="832.2" cy="524.4" r="5.1" fill="#0081eb"/><circle cx="838.6" cy="508.7" r="5.1" fill="#f9014f"/><circle cx="846.4" cy="517.6" r="5.1" fill="#e90170"/><circle cx="849.7" cy="510.9" r="5.1" fill="#e0017a"/><circle cx="843.5" cy="510.9" r="5.1" fill="#f5015e"/><circle cx="831.5" cy="524.4" r="5.1" fill="#0073e5"/><circle cx="840.3" cy="526.6" r="5.1" fill="#f5015e"/><circle cx="839.7" cy="501.9" r="5.1" fill="#f80156"/><circle cx="843.4" cy="515.4" r="5.1" fill="#ef0169"/><circle cx="829.4" cy="519.9" r="5.1" fill="#0081eb"/><circle cx="851.8" cy="510.9" r="5.1" fill="#e90170"/><circle cx="840.3" cy="504.2" r="5.1" fill="#cc018b"/><circle cx="831.6" cy="515.4" r="5.1" fill="#5b57d1"/><circle cx="828.3" cy="499.7" r="5.1" fill="#4e5dd6"/><circle cx="828.9" cy="528.9" r="5.1" fill="#0076e7"/><circle cx="828.8" cy="515.4" r="5.1" fill="#8935b3"/><circle cx="847.0" cy="519.9" r="5.1" fill="#b80197"/><circle cx="839.5" cy="506.4" r="5.1" fill="#f30162"/><circle cx="827.1" cy="506.4" r="5.1" fill="#704bc6"/><circle cx="828.8" cy="501.9" r="5.1" fill="#6a4fca"/><circle cx="849.5" cy="519.9" r="5.1" fill="#d70181"/><circle cx="848.8" cy="513.2" r="5.1" fill="#f80156"/><circle cx="827.6" cy="513.2" r="5.1" fill="#6d4dc8"/><circle cx="831.7" cy="517.6" r="5.1" fill="#3d62da"/><circle cx="829.9" cy="513.2" r="5.1" fill="#2d65dd"/><circle cx="836.5" cy="508.7" r="5.1" fill="#f80156"/><circle cx="837.8" cy="515.4" r="5.1" fill="#f30162"/><circle cx="833.2" cy="513.2" r="5.1" fill="#7945c0"/><circle cx="835.4" cy="528.9" r="5.1" fill="#007deb"/><circle cx="848.3" cy="519.9" r="5.1" fill="#e90170"/><circle cx="838.7" cy="513.2" r="5.1" fill="#e50174"/><circle cx="843.3" cy="504.2" r="5.1" fill="#f80154"/><circle cx="834.3" cy="515.4" r="5.1" fill="#8737b5"/><circle cx="846.6" cy="510.9" r="5.1" fill="#f6015c"/><circle cx="832.9" cy="526.6" r="5.1" fill="#a317a0"/><circle cx="844.5" cy="513.2" r="5.1" fill="#db017e"/><circle cx="841.1" cy="501.9" r="5.1" fill="#f10164"/><circle cx="844.9" cy="510.9" r="5.1" fill="#dd017c"/><circle cx="840.5" cy="517.6" r="5.1" fill="#f80158"/><circle cx="843.9" cy="519.9" r="5.1" fill="#d10187"/><circle cx="837.5" cy="499.7" r="5.1" fill="#d90180"/><circle cx="837.0" cy="526.6" r="5.1" fill="#ec016d"/><circle cx="842.0" cy="504.2" r="5.1" fill="#f40160"/><circle cx="835.4" cy="526.6" r="5.1" fill="#007be9"/><circle cx="837.8" cy="522.1" r="5.1" fill="#c30191"/><circle cx="838.8" cy="519.9" r="5.1" fill="#ed016b"/><circle cx="825.7" cy="515.4" r="5.1" fill="#6a4fca"/><circle cx="835.2" cy="510.9" r="5.1" fill="#0079e9"/><circle cx="838.6" cy="524.4" r="5.1" fill="#f7015a"/><circle cx="825.9" cy="508.7" r="5.1" fill="#6751cc"/><circle cx="830.6" cy="522.1" r="5.1" fill="#007feb"/><circle cx="831.0" cy="528.9" r="5.1" fill="#007bea"/><circle cx="845.4" cy="519.9" r="5.1" fill="#e70172"/><circle cx="834.9" cy="526.6" r="5.1" fill="#ac0b9d"/><circle cx="834.1" cy="522.1" r="5.1" fill="#a01aa2"/><circle cx="837.7" cy="510.9" r="5.1" fill="#f40160"/><circle cx="837.5" cy="501.9" r="5.1" fill="#db017e"/><circle cx="826.7" cy="524.4" r="5.1" fill="#b80197"/><circle cx="828.2" cy="510.9" r="5.1" fill="#535bd4"/><circle cx="850.5" cy="515.4" r="5.1" fill="#e0017a"/><circle cx="830.8" cy="510.9" r="5.1" fill="#7349c4"/><circle cx="828.7" cy="506.4" r="5.1" fill="#6d4dc8"/><circle cx="838.8" cy="504.2" r="5.1" fill="#f40160"/><circle cx="836.4" cy="510.9" r="5.1" fill="#7c42be"/><circle cx="835.3" cy="513.2" r="5.1" fill="#007deb"/><circle cx="842.1" cy="513.2" r="5.1" fill="#ea016f"/><circle cx="841.7" cy="517.6" r="5.1" fill="#c00192"/><circle cx="843.4" cy="524.4" r="5.1" fill="#f90151"/><circle cx="826.6" cy="506.4" r="5.1" fill="#5659d2"/><circle cx="828.3" cy="517.6" r="5.1" fill="#5f56cf"/><circle cx="830.5" cy="504.2" r="5.1" fill="#7f40bc"/><circle cx="828.5" cy="519.9" r="5.1" fill="#b2019a"/><circle cx="831.0" cy="519.9" r="5.1" fill="#007deb"/><circle cx="825.8" cy="522.1" r="5.1" fill="#007eea"/><circle cx="828.1" cy="504.2" r="5.1" fill="#4e5dd6"/><circle cx="836.2" cy="524.4" r="5.1" fill="#0071e5"/><circle cx="827.0" cy="522.1" r="5.1" fill="#ac0b9d"/><circle cx="843.9" cy="506.4" r="5.1" fill="#e50174"/><circle cx="836.5" cy="515.4" r="5.1" fill="#f5015e"/><circle cx="835.4" cy="519.9" r="5.1" fill="#0082eb"/><circle cx="837.5" cy="519.9" r="5.1" fill="#f6015c"/><circle cx="832.2" cy="508.7" r="5.1" fill="#704bc6"/><circle cx="839.8" cy="510.9" r="5.1" fill="#db017e"/><circle cx="834.4" cy="519.9" r="5.1" fill="#0079e9"/><circle cx="826.4" cy="510.9" r="5.1" fill="#007deb"/><circle cx="828.9" cy="524.4" r="5.1" fill="#0071e4"/><circle cx="829.4" cy="508.7" r="5.1" fill="#7349c4"/><circle cx="829.5" cy="517.6" r="5.1" fill="#823db9"/><circle cx="848.2" cy="515.4" r="5.1" fill="#d90180"/><circle cx="835.3" cy="499.7" r="5.1" fill="#4260d8"/><circle cx="849.6" cy="510.9" r="5.1" fill="#e40176"/><circle cx="843.2" cy="519.9" r="5.1" fill="#d10187"/><circle cx="845.0" cy="517.6" r="5.1" fill="#ea016f"/><circle cx="835.8" cy="522.1" r="5.1" fill="#8737b5"/><circle cx="843.4" cy="513.2" r="5.1" fill="#f10164"/><circle cx="850.2" cy="517.6" r="5.1" fill="#f7015a"/><circle cx="826.9" cy="517.6" r="5.1" fill="#9128a9"/><circle cx="835.5" cy="506.4" r="5.1" fill="#535bd4"/><circle cx="841.6" cy="526.6" r="5.1" fill="#f9014f"/><circle cx="836.1" cy="504.2" r="5.1" fill="#4e5dd6"/><circle cx="826.2" cy="519.9" r="5.1" fill="#a317a0"/><circle cx="846.7" cy="522.1" r="5.1" fill="#db017e"/><circle cx="833.7" cy="506.4" r="5.1" fill="#4e5dd6"/><circle cx="845.3" cy="522.1" r="5.1" fill="#e0017a"/><circle cx="842.4" cy="515.4" r="5.1" fill="#f00167"/><circle cx="843.7" cy="522.1" r="5.1" fill="#f00167"/><circle cx="848.5" cy="517.6" r="5.1" fill="#ed016b"/><circle cx="835.4" cy="501.9" r="5.1" fill="#8e2fae"/><circle cx="840.5" cy="508.7" r="5.1" fill="#f9014f"/><circle cx="833.9" cy="522.1" r="5.1" fill="#c00192"/><circle cx="834.0" cy="513.2" r="5.1" fill="#007deb"/><circle cx="850.1" cy="513.2" r="5.1" fill="#dd017c"/><circle cx="832.5" cy="510.9" r="5.1" fill="#0075e6"/><circle cx="833.3" cy="517.6" r="5.1" fill="#8737b5"/><circle cx="835.3" cy="508.7" r="5.1" fill="#6a4fca"/><circle cx="826.0" cy="517.6" r="5.1" fill="#0079e9"/><circle cx="852.9" cy="517.6" r="5.1" fill="#e70172"/><circle cx="837.3" cy="528.9" r="5.1" fill="#ea016f"/><circle cx="839.9" cy="522.1" r="5.1" fill="#f40160"/><circle cx="839.5" cy="517.6" r="5.1" fill="#d30185"/><circle cx="837.8" cy="528.9" r="5.1" fill="#f80154"/><circle cx="846.9" cy="506.4" r="5.1" fill="#ed016b"/><circle cx="827.0" cy="515.4" r="5.1" fill="#4e5dd6"/><circle cx="828.0" cy="526.6" r="5.1" fill="#0076e7"/><circle cx="851.1" cy="517.6" r="5.1" fill="#ec016d"/><circle cx="845.7" cy="506.4" r="5.1" fill="#f10164"/><circle cx="842.1" cy="510.9" r="5.1" fill="#f5015e"/><circle cx="828.2" cy="508.7" r="5.1" fill="#485fd7"/><circle cx="852.5" cy="515.4" r="5.1" fill="#f7015a"/><circle cx="829.6" cy="506.4" r="5.1" fill="#5f56cf"/><circle cx="844.5" cy="510.9" r="5.1" fill="#cc018b"/><circle cx="836.7" cy="506.4" r="5.1" fill="#e20178"/><circle cx="835.3" cy="517.6" r="5.1" fill="#7349c4"/><circle cx="845.8" cy="524.4" r="5.1" fill="#f10164"/><circle cx="850.6" cy="519.9" r="5.1" fill="#f30162"/><circle cx="828.3" cy="531.1" r="5.1" fill="#0079e9"/><circle cx="827.8" cy="504.2" r="5.1" fill="#3d62da"/><circle cx="826.5" cy="504.2" r="5.1" fill="#485fd7"/><circle cx="845.1" cy="513.2" r="5.1" fill="#f6015c"/><circle cx="840.4" cy="513.2" r="5.1" fill="#f00167"/><circle cx="833.2" cy="504.2" r="5.1" fill="#535bd4"/><circle cx="827.7" cy="508.7" r="5.1" fill="#006ae0"/><circle cx="832.2" cy="515.4" r="5.1" fill="#007bea"/><circle cx="851.1" cy="515.4" r="5.1" fill="#f80158"/><circle cx="831.7" cy="519.9" r="5.1" fill="#0075e6"/><circle cx="838.0" cy="506.4" r="5.1" fill="#f40160"/><circle cx="840.4" cy="515.4" r="5.1" fill="#d10187"/><circle cx="837.6" cy="510.9" r="5.1" fill="#d30185"/><circle cx="849.2" cy="508.7" r="5.1" fill="#dd017c"/><circle cx="847.7" cy="517.6" r="5.1" fill="#e20178"/><circle cx="841.8" cy="524.4" r="5.1" fill="#e0017a"/><circle cx="810.5" cy="515.4" r="5.1" fill="#0079e9"/><circle cx="819.0" cy="520.0" r="5.1" fill="#8f2cab"/><circle cx="817.0" cy="515.0" r="5.1" fill="#9c1da3"/><circle cx="831.0" cy="489.0" r="5.1" fill="#1768de"/><circle cx="835.0" cy="490.0" r="5.1" fill="#7945c0"/><circle cx="832.0" cy="495.0" r="5.1" fill="#5f56cf"/><circle cx="835.0" cy="497.0" r="5.1" fill="#7747c2"/><circle cx="830.0" cy="500.0" r="5.1" fill="#535bd4"/><circle cx="834.0" cy="503.0" r="5.1" fill="#7c42be"/><circle cx="826.0" cy="505.0" r="5.1" fill="#6d4dc8"/><circle cx="830.0" cy="508.0" r="5.1" fill="#7c42be"/><circle cx="823.0" cy="510.0" r="5.1" fill="#823db9"/><circle cx="821.0" cy="514.0" r="5.1" fill="#5f56cf"/><circle cx="825.0" cy="516.0" r="5.1" fill="#0078e8"/><circle cx="830.0" cy="514.0" r="5.1" fill="#006ee2"/><circle cx="823.0" cy="520.0" r="5.1" fill="#007eea"/><circle cx="829.0" cy="520.0" r="5.1" fill="#007bea"/><circle cx="833.0" cy="518.0" r="5.1" fill="#007eea"/><circle cx="825.0" cy="524.0" r="5.1" fill="#007eea"/><circle cx="831.0" cy="526.0" r="5.1" fill="#007deb"/><circle cx="834.0" cy="530.0" r="5.1" fill="#007bea"/><circle cx="830.0" cy="531.0" r="5.1" fill="#0081eb"/><circle cx="831.0" cy="536.0" r="5.1" fill="#a6139f"/><circle cx="836.0" cy="538.0" r="5.1" fill="#a317a0"/><circle cx="829.0" cy="539.0" r="5.1" fill="#007be9"/><circle cx="832.0" cy="542.0" r="5.1" fill="#007eea"/><circle cx="835.0" cy="541.0" r="5.1" fill="#006ee2"/><circle cx="834.0" cy="511.4" r="5.1" fill="#7945c0"/><circle cx="836.0" cy="521.4" r="5.1" fill="#0076e7"/><circle cx="843.0" cy="500.0" r="5.1" fill="#ef0169"/><circle cx="845.0" cy="503.0" r="5.1" fill="#f40160"/><circle cx="842.0" cy="504.0" r="5.1" fill="#8e2fae"/><circle cx="839.0" cy="510.0" r="5.1" fill="#c50190"/><circle cx="845.0" cy="509.0" r="5.1" fill="#e70172"/><circle cx="838.0" cy="515.0" r="5.1" fill="#c9018c"/><circle cx="844.0" cy="515.0" r="5.1" fill="#d30185"/><circle cx="849.0" cy="515.0" r="5.1" fill="#f6015c"/><circle cx="840.0" cy="521.0" r="5.1" fill="#b50199"/><circle cx="845.0" cy="522.0" r="5.1" fill="#d50183"/><circle cx="841.0" cy="527.0" r="5.1" fill="#c30191"/><circle cx="845.0" cy="528.0" r="5.1" fill="#e40176"/><circle cx="843.0" cy="531.0" r="5.1" fill="#d70181"/><circle cx="855.0" cy="513.0" r="5.1" fill="#f80156"/><circle cx="857.0" cy="518.0" r="5.1" fill="#f80156"/><circle cx="861.0" cy="514.0" r="5.1" fill="#f80158"/><circle cx="866.3" cy="516.0" r="5.1" fill="#f80156"/><circle cx="851.0" cy="518.4" r="5.1" fill="#f80156"/>
</g>
<g stroke="#0f1a2c" stroke-width="1.9" fill="none">
<line x1="415.9" y1="595.6" x2="1242.9" y2="595.6"/>
<line x1="486.7" y1="595.6" x2="486.7" y2="604.9"/>
<line x1="661.8" y1="595.6" x2="661.8" y2="604.9"/>
<line x1="836.8" y1="595.6" x2="836.8" y2="604.9"/>
<line x1="1011.8" y1="595.6" x2="1011.8" y2="604.9"/>
<line x1="1186.9" y1="595.6" x2="1186.9" y2="604.9"/>
</g>
<rect x="1296.1" y="36.2" width="7.1" height="559.4" fill="url(#cb)"/>
<text id="t0_0_0" x="31.80" y="128.3" font-size="32.5" fill="#111111" stroke="#111111" stroke-width="0.3" textLength="95.18" lengthAdjust="spacingAndGlyphs">Media</text><text id="t0_0_1" x="138.50" y="128.3" font-size="32.5" fill="#111111" stroke="#111111" stroke-width="0.3" textLength="48.93" lengthAdjust="spacingAndGlyphs">dei</text><text id="t0_0_2" x="195.60" y="128.3" font-size="32.5" fill="#111111" stroke="#111111" stroke-width="0.3" textLength="56.47" lengthAdjust="spacingAndGlyphs">voti</text><text id="t0_0_3" x="262.80" y="128.3" font-size="32.5" fill="#111111" stroke="#111111" stroke-width="0.3" textLength="114.35" lengthAdjust="spacingAndGlyphs">(CGPA)</text>
<text id="t0_1_0" x="148.20" y="207.9" font-size="32.5" fill="#111111" stroke="#111111" stroke-width="0.3" textLength="160.01" lengthAdjust="spacingAndGlyphs">Punteggio</text><text id="t0_1_1" x="317.30" y="207.9" font-size="32.5" fill="#111111" stroke="#111111" stroke-width="0.3" textLength="59.35" lengthAdjust="spacingAndGlyphs">GRE</text>
<text id="t0_2_0" x="117.60" y="287.6" font-size="32.5" fill="#111111" stroke="#111111" stroke-width="0.3" textLength="159.92" lengthAdjust="spacingAndGlyphs">Punteggio</text><text id="t0_2_1" x="287.70" y="287.6" font-size="32.5" fill="#111111" stroke="#111111" stroke-width="0.3" textLength="87.96" lengthAdjust="spacingAndGlyphs">TOEFL</text>
<text id="t0_3_0" x="229.50" y="349.5" font-size="32.5" fill="#111111" stroke="#111111" stroke-width="0.3" textLength="109.11" lengthAdjust="spacingAndGlyphs">Lettere</text><text id="t0_3_1" x="345.40" y="349.5" font-size="32.5" fill="#111111" stroke="#111111" stroke-width="0.3" textLength="30.28" lengthAdjust="spacingAndGlyphs">di</text>
<text id="t0_4_0" x="0.60" y="383.0" font-size="32.5" fill="#111111" stroke="#111111" stroke-width="0.3" textLength="283.37" lengthAdjust="spacingAndGlyphs">raccomandazione</text><text id="t0_4_1" x="293.60" y="383.0" font-size="32.5" fill="#111111" stroke="#111111" stroke-width="0.3" textLength="81.66" lengthAdjust="spacingAndGlyphs">(LOR)</text>
<text id="t0_5_0" x="123.90" y="430.2" font-size="32.5" fill="#111111" stroke="#111111" stroke-width="0.3" textLength="214.60" lengthAdjust="spacingAndGlyphs">Dichiarazione</text><text id="t0_5_1" x="345.40" y="430.2" font-size="32.5" fill="#111111" stroke="#111111" stroke-width="0.3" textLength="30.28" lengthAdjust="spacingAndGlyphs">di</text>
<text id="t0_6_0" x="183.50" y="464.2" font-size="32.5" fill="#111111" stroke="#111111" stroke-width="0.3" textLength="95.39" lengthAdjust="spacingAndGlyphs">intenti</text><text id="t0_6_1" x="289.70" y="464.2" font-size="32.5" fill="#111111" stroke="#111111" stroke-width="0.3" textLength="85.54" lengthAdjust="spacingAndGlyphs">(SOP)</text>
<text id="t0_7_0" x="190.10" y="511.2" font-size="32.5" fill="#111111" stroke="#111111" stroke-width="0.3" textLength="185.33" lengthAdjust="spacingAndGlyphs">Valutazione</text>
<text id="t0_8_0" x="157.60" y="545.6" font-size="32.5" fill="#111111" stroke="#111111" stroke-width="0.3" textLength="215.83" lengthAdjust="spacingAndGlyphs">dell'università</text>
<text id="t1_0_0" x="459.10" y="634.9" font-size="29.5" fill="#1c1c1c" stroke="#1c1c1c" stroke-width="0.3" textLength="54.94" lengthAdjust="spacingAndGlyphs">−0.2</text><text id="t1_0_1" x="637.60" y="634.9" font-size="29.5" fill="#1c1c1c" stroke="#1c1c1c" stroke-width="0.3" textLength="46.47" lengthAdjust="spacingAndGlyphs">−0.1</text><text id="t1_0_2" x="816.90" y="634.9" font-size="29.5" fill="#1c1c1c" stroke="#1c1c1c" stroke-width="0.3" textLength="40.20" lengthAdjust="spacingAndGlyphs">0.0</text><text id="t1_0_3" x="996.10" y="634.9" font-size="29.5" fill="#1c1c1c" stroke="#1c1c1c" stroke-width="0.3" textLength="31.08" lengthAdjust="spacingAndGlyphs">0.1</text><text id="t1_0_4" x="1167.50" y="634.9" font-size="29.5" fill="#1c1c1c" stroke="#1c1c1c" stroke-width="0.3" textLength="39.61" lengthAdjust="spacingAndGlyphs">0.2</text>
<text id="t2_0_0" x="451.20" y="683.9" font-size="32.8" fill="#0d1b2e" stroke="#0d1b2e" stroke-width="0.3" textLength="106.15" lengthAdjust="spacingAndGlyphs">Valore</text><text id="t2_0_1" x="566.10" y="683.9" font-size="32.8" fill="#0d1b2e" stroke="#0d1b2e" stroke-width="0.3" textLength="84.32" lengthAdjust="spacingAndGlyphs">SHAP</text><text id="t2_0_2" x="661.70" y="683.9" font-size="32.8" fill="#0d1b2e" stroke="#0d1b2e" stroke-width="0.3" textLength="147.49" lengthAdjust="spacingAndGlyphs">(impatto</text><text id="t2_0_3" x="817.00" y="683.9" font-size="32.8" fill="#0d1b2e" stroke="#0d1b2e" stroke-width="0.3" textLength="168.91" lengthAdjust="spacingAndGlyphs">sull'output</text><text id="t2_0_4" x="1000.40" y="683.9" font-size="32.8" fill="#0d1b2e" stroke="#0d1b2e" stroke-width="0.3" textLength="48.23" lengthAdjust="spacingAndGlyphs">del</text><text id="t2_0_5" x="1057.60" y="683.9" font-size="32.8" fill="#0d1b2e" stroke="#0d1b2e" stroke-width="0.3" textLength="150.38" lengthAdjust="spacingAndGlyphs">modello)</text>
<text id="t3_0_0" x="1312.60" y="46.7" font-size="28.6" fill="#0d1b2e" stroke="#0d1b2e" stroke-width="0.3" textLength="53.38" lengthAdjust="spacingAndGlyphs">Alto</text>
<text id="t3_1_0" x="1311.60" y="606.5" font-size="28.6" fill="#0d1b2e" stroke="#0d1b2e" stroke-width="0.3" textLength="83.29" lengthAdjust="spacingAndGlyphs">Basso</text>
<g transform="translate(1398.9,0) rotate(-90)"><text id="t4_0_0" x="-523.00" y="0" font-size="32.0" fill="#0d1b2e" stroke="#0d1b2e" stroke-width="0.3" textLength="95.17" lengthAdjust="spacingAndGlyphs">Valore</text><text id="t4_0_1" x="-418.80" y="0" font-size="32.0" fill="#0d1b2e" stroke="#0d1b2e" stroke-width="0.3" textLength="70.26" lengthAdjust="spacingAndGlyphs">della</text><text id="t4_0_2" x="-337.70" y="0" font-size="32.0" fill="#0d1b2e" stroke="#0d1b2e" stroke-width="0.3" textLength="200.31" lengthAdjust="spacingAndGlyphs">caratteristica</text></g>
</svg>
</body></html>
